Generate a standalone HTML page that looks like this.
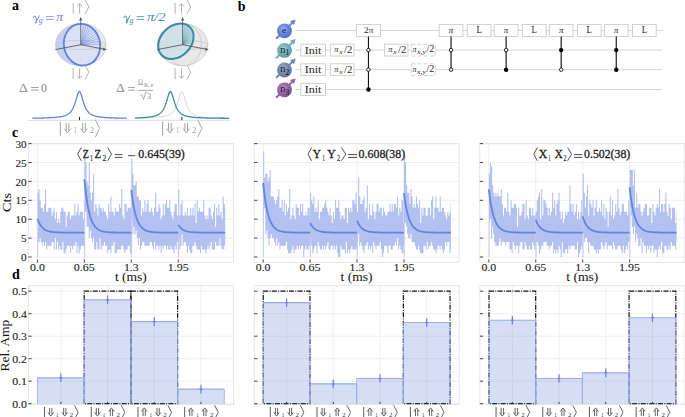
<!DOCTYPE html><html><head><meta charset="utf-8"><style>html,body{margin:0;padding:0;background:#fff;overflow:hidden}svg{display:block}</style></head><body><svg width="685" height="417" viewBox="0 0 685 417" font-family="'Liberation Serif', serif">
<rect width="685" height="417" fill="#fff"/>
<text x="12" y="9.7" font-size="14" fill="#000" text-anchor="start" font-weight="bold">a</text>
<text x="237.8" y="11.2" font-size="14" fill="#000" text-anchor="start" font-weight="bold">b</text>
<text x="12" y="137.1" font-size="14" fill="#000" text-anchor="start" font-weight="bold">c</text>
<text x="12" y="278.9" font-size="14" fill="#000" text-anchor="start" font-weight="bold">d</text>
<defs><clipPath id="clL"><ellipse cx="80.8" cy="44.7" rx="25.2" ry="21.1"/></clipPath></defs>
<ellipse cx="80.8" cy="44.7" rx="25.2" ry="21.1" fill="#e8e8e8"/>
<g clip-path="url(#clL)"><rect x="55.6" y="23.6" width="25.9" height="42.2" fill="#c7d0f1"/></g>
<ellipse cx="82" cy="44.7" rx="18.1" ry="20.9" transform="rotate(-11 82 44.7)" fill="#dce2f5"/>
<ellipse cx="80.8" cy="45" rx="25.2" ry="4.6" fill="none" stroke="#bdbdbd" stroke-width="0.6"/>
<ellipse cx="80.8" cy="44.7" rx="25.2" ry="21.1" fill="none" stroke="#c6c6c6" stroke-width="0.7"/>
<line x1="80.8" y1="44.7" x2="83.59" y2="24.1" stroke="#7690e6" stroke-width="0.6"/>
<line x1="80.8" y1="44.7" x2="86.1" y2="24.71" stroke="#7690e6" stroke-width="0.6"/>
<line x1="80.8" y1="44.7" x2="88.53" y2="25.71" stroke="#7690e6" stroke-width="0.6"/>
<line x1="80.8" y1="44.7" x2="90.84" y2="27.08" stroke="#7690e6" stroke-width="0.6"/>
<line x1="80.8" y1="44.7" x2="92.97" y2="28.8" stroke="#7690e6" stroke-width="0.6"/>
<line x1="80.8" y1="44.7" x2="94.89" y2="30.82" stroke="#7690e6" stroke-width="0.6"/>
<line x1="80.8" y1="44.7" x2="96.56" y2="33.11" stroke="#7690e6" stroke-width="0.6"/>
<line x1="80.8" y1="44.7" x2="97.94" y2="35.64" stroke="#7690e6" stroke-width="0.6"/>
<line x1="80.8" y1="44.7" x2="99.01" y2="38.33" stroke="#7690e6" stroke-width="0.6"/>
<line x1="80.8" y1="44.7" x2="99.75" y2="41.16" stroke="#7690e6" stroke-width="0.6"/>
<line x1="80.8" y1="44.7" x2="100.14" y2="44.05" stroke="#7690e6" stroke-width="0.6"/>
<ellipse cx="82" cy="44.7" rx="18.1" ry="20.9" transform="rotate(-11 82 44.7)" fill="none" stroke="#6382e2" stroke-width="1.85"/>
<line x1="80.7" y1="44.7" x2="80.7" y2="19.5" stroke="#5a5a5a" stroke-width="0.8"/>
<path d="M80.7 16.8L79.2 20.6L82.2 20.6Z" stroke="none" stroke-width="0" fill="#5a5a5a"/>
<line x1="55.3" y1="49.6" x2="80.8" y2="44.7" stroke="#5a5a5a" stroke-width="0.9"/>
<line x1="80.8" y1="44.7" x2="105.3" y2="49.4" stroke="#5a5a5a" stroke-width="0.9"/>
<path d="M107 49.7L103.4 47.7L103 50.5Z" stroke="none" stroke-width="0" fill="#5a5a5a"/>
<defs><clipPath id="clR"><ellipse cx="182.7" cy="44.7" rx="25.2" ry="21.1"/></clipPath></defs>
<ellipse cx="182.7" cy="44.7" rx="25.2" ry="21.1" fill="#e8e8e8"/>
<ellipse cx="183.6" cy="44.7" rx="17.8" ry="21.1" fill="none" stroke="#c4c4c4" stroke-width="0.7"/>
<ellipse cx="182.7" cy="45" rx="25.2" ry="4.6" fill="none" stroke="#bdbdbd" stroke-width="0.6"/>
<ellipse cx="182.7" cy="44.7" rx="25.2" ry="21.1" fill="none" stroke="#c6c6c6" stroke-width="0.7"/>
<ellipse cx="175.9" cy="41.2" rx="19.9" ry="15.2" transform="rotate(-45 175.9 41.2)" fill="#c9dfe7" fill-opacity="0.75"/>
<line x1="182.7" y1="44.7" x2="182.77" y2="23.65" stroke="#4f98ad" stroke-width="0.45"/>
<line x1="182.7" y1="44.7" x2="184.98" y2="24.15" stroke="#4f98ad" stroke-width="0.45"/>
<line x1="182.7" y1="44.7" x2="187.01" y2="24.97" stroke="#4f98ad" stroke-width="0.45"/>
<line x1="182.7" y1="44.7" x2="188.82" y2="26.12" stroke="#4f98ad" stroke-width="0.45"/>
<line x1="182.7" y1="44.7" x2="190.29" y2="27.46" stroke="#4f98ad" stroke-width="0.45"/>
<line x1="182.7" y1="44.7" x2="191.59" y2="29.16" stroke="#4f98ad" stroke-width="0.45"/>
<line x1="182.7" y1="44.7" x2="192.58" y2="31.08" stroke="#4f98ad" stroke-width="0.45"/>
<line x1="182.7" y1="44.7" x2="193.25" y2="33.21" stroke="#4f98ad" stroke-width="0.45"/>
<line x1="182.7" y1="44.7" x2="193.56" y2="35.34" stroke="#4f98ad" stroke-width="0.45"/>
<line x1="182.7" y1="44.7" x2="193.56" y2="37.72" stroke="#4f98ad" stroke-width="0.45"/>
<line x1="182.7" y1="44.7" x2="193.22" y2="40.18" stroke="#4f98ad" stroke-width="0.45"/>
<line x1="182.7" y1="44.7" x2="192.54" y2="42.65" stroke="#4f98ad" stroke-width="0.45"/>
<ellipse cx="175.9" cy="41.2" rx="19.9" ry="15.2" transform="rotate(-45 175.9 41.2)" fill="none" stroke="#3a8ba2" stroke-width="2"/>
<line x1="182.6" y1="44.7" x2="182.6" y2="19.5" stroke="#5a5a5a" stroke-width="0.8"/>
<path d="M182.6 16.8L181.1 20.6L184.1 20.6Z" stroke="none" stroke-width="0" fill="#5a5a5a"/>
<line x1="157.2" y1="49.6" x2="182.7" y2="44.7" stroke="#5a5a5a" stroke-width="0.9"/>
<line x1="182.7" y1="44.7" x2="207.2" y2="49.4" stroke="#5a5a5a" stroke-width="0.9"/>
<path d="M208.9 49.7L205.3 47.7L204.9 50.5Z" stroke="none" stroke-width="0" fill="#5a5a5a"/>
<line x1="73.2" y1="2.8" x2="73.2" y2="13.8" stroke="#999" stroke-width="0.75"/>
<line x1="79.6" y1="3.8" x2="79.6" y2="13.5" stroke="#999" stroke-width="0.75"/>
<path d="M76.9 6.4L79.6 3.8L82.3 6.4" stroke="#999" stroke-width="0.75" fill="none"/>
<path d="M85.2 0L88.8 6.9L85.2 13.8" stroke="#999" stroke-width="0.75" fill="none"/>
<line x1="175.1" y1="2.8" x2="175.1" y2="13.8" stroke="#999" stroke-width="0.75"/>
<line x1="181.5" y1="3.8" x2="181.5" y2="13.5" stroke="#999" stroke-width="0.75"/>
<path d="M178.8 6.4L181.5 3.8L184.2 6.4" stroke="#999" stroke-width="0.75" fill="none"/>
<path d="M187.1 0L190.7 6.9L187.1 13.8" stroke="#999" stroke-width="0.75" fill="none"/>
<line x1="73.2" y1="68.2" x2="73.2" y2="79.2" stroke="#999" stroke-width="0.75"/>
<line x1="79.6" y1="68.5" x2="79.6" y2="78.2" stroke="#999" stroke-width="0.75"/>
<path d="M76.9 75.6L79.6 78.2L82.3 75.6" stroke="#999" stroke-width="0.75" fill="none"/>
<path d="M85.2 65.4L88.8 72.3L85.2 79.2" stroke="#999" stroke-width="0.75" fill="none"/>
<line x1="175.1" y1="68.2" x2="175.1" y2="79.2" stroke="#999" stroke-width="0.75"/>
<line x1="181.5" y1="68.5" x2="181.5" y2="78.2" stroke="#999" stroke-width="0.75"/>
<path d="M178.8 75.6L181.5 78.2L184.2 75.6" stroke="#999" stroke-width="0.75" fill="none"/>
<path d="M187.1 65.4L190.7 72.3L187.1 79.2" stroke="#999" stroke-width="0.75" fill="none"/>
<path d="M33.2 17.7Q33.8 15.6 35.2 16.0Q36.3 16.6 36.4 20.4M39.4 15.8L36 21.8Q35.3 23.6 36.1 23.3Q36.8 22.8 36.4 20.4" stroke="#6985e6" stroke-width="0.95" fill="none" stroke-linecap="round"/>
<text x="38.8" y="23" font-size="7.2" fill="#6985e6" text-anchor="start" font-style="italic" textLength="4" lengthAdjust="spacingAndGlyphs">g</text>
<line x1="46.1" y1="16.6" x2="53.7" y2="16.6" stroke="#6985e6" stroke-width="0.8"/>
<line x1="46.1" y1="19.4" x2="53.7" y2="19.4" stroke="#6985e6" stroke-width="0.8"/>
<text x="56.3" y="20.9" font-size="11.5" fill="#6985e6" text-anchor="start" font-style="italic" textLength="6.8" lengthAdjust="spacingAndGlyphs">π</text>
<path d="M123.8 17.7Q124.4 15.6 125.8 16.0Q126.9 16.6 127 20.4M130 15.8L126.6 21.8Q125.9 23.6 126.7 23.3Q127.4 22.8 127 20.4" stroke="#3d8ea6" stroke-width="0.95" fill="none" stroke-linecap="round"/>
<text x="129.4" y="23" font-size="7.2" fill="#3d8ea6" text-anchor="start" font-style="italic" textLength="4" lengthAdjust="spacingAndGlyphs">g</text>
<line x1="136.7" y1="16.6" x2="144.3" y2="16.6" stroke="#3d8ea6" stroke-width="0.8"/>
<line x1="136.7" y1="19.4" x2="144.3" y2="19.4" stroke="#3d8ea6" stroke-width="0.8"/>
<text x="146.9" y="20.9" font-size="11.5" fill="#3d8ea6" text-anchor="start" font-style="italic" textLength="18.6" lengthAdjust="spacingAndGlyphs">π/2</text>
<line x1="27.9" y1="120.3" x2="230" y2="120.3" stroke="#dcdcdc" stroke-width="1"/>
<path d="M32.3 118.2 32.77 118.19 33.25 118.19 33.72 118.18 34.2 118.17 34.67 118.17 35.15 118.16 35.62 118.15 36.1 118.14 36.57 118.14 37.05 118.13 37.52 118.12 38 118.11 38.47 118.1 38.95 118.09 39.42 118.08 39.9 118.07 40.37 118.06 40.85 118.05 41.32 118.04 41.8 118.03 42.27 118.02 42.75 118.01 43.22 117.99 43.7 117.98 44.17 117.97 44.65 117.95 45.12 117.94 45.6 117.92 46.07 117.91 46.55 117.89 47.02 117.87 47.5 117.85 47.97 117.83 48.45 117.81 48.92 117.79 49.4 117.77 49.87 117.75 50.35 117.72 50.82 117.7 51.29 117.67 51.77 117.64 52.24 117.61 52.72 117.58 53.19 117.55 53.67 117.52 54.14 117.48 54.62 117.44 55.09 117.4 55.57 117.36 56.04 117.32 56.52 117.27 56.99 117.22 57.47 117.17 57.94 117.11 58.42 117.05 58.89 116.98 59.37 116.92 59.84 116.84 60.32 116.77 60.79 116.68 61.27 116.59 61.74 116.5 62.22 116.39 62.69 116.28 63.17 116.16 63.64 116.03 64.12 115.89 64.59 115.74 65.07 115.57 65.54 115.39 66.02 115.19 66.49 114.98 66.97 114.74 67.44 114.48 67.92 114.2 68.39 113.88 68.87 113.54 69.34 113.15 69.82 112.72 70.29 112.25 70.76 111.72 71.24 111.13 71.71 110.47 72.19 109.73 72.66 108.91 73.14 107.99 73.61 106.96 74.09 105.81 74.56 104.55 75.04 103.17 75.51 101.67 75.99 100.08 76.46 98.43 76.94 96.77 77.41 95.18 77.89 93.76 78.36 92.61 78.84 91.84 79.31 91.51 79.79 91.66 80.26 92.28 80.74 93.3 81.21 94.63 81.69 96.17 82.16 97.81 82.64 99.47 83.11 101.09 83.59 102.63 84.06 104.05 84.54 105.36 85.01 106.55 85.49 107.62 85.96 108.58 86.44 109.44 86.91 110.21 87.39 110.9 87.86 111.51 88.34 112.06 88.81 112.56 89.28 113 89.76 113.4 90.23 113.76 90.71 114.09 91.18 114.38 91.66 114.65 92.13 114.89 92.61 115.12 93.08 115.32 93.56 115.51 94.03 115.68 94.51 115.83 94.98 115.98 95.46 116.11 95.93 116.24 96.41 116.35 96.88 116.46 97.36 116.56 97.83 116.65 98.31 116.74 98.78 116.82 99.26 116.89 99.73 116.96 100.21 117.03 100.68 117.09 101.16 117.15 101.63 117.2 102.11 117.25 102.58 117.3 103.06 117.35 103.53 117.39 104.01 117.43 104.48 117.47 104.96 117.5 105.43 117.54 105.91 117.57 106.38 117.6 106.86 117.63 107.33 117.66 107.81 117.69 108.28 117.71 108.75 117.74 109.23 117.76 109.7 117.78 110.18 117.81 110.65 117.83 111.13 117.85 111.6 117.86 112.08 117.88 112.55 117.9 113.03 117.92 113.5 117.93 113.98 117.95 114.45 117.96 114.93 117.98 115.4 117.99 115.88 118 116.35 118.01 116.83 118.03 117.3 118.04 117.78 118.05 118.25 118.06 118.73 118.07 119.2 118.08 119.68 118.09 120.15 118.1 120.63 118.11 121.1 118.12 121.58 118.13 122.05 118.13 122.53 118.14 123 118.15 123.48 118.16 123.95 118.16 124.43 118.17 124.9 118.18 125.38 118.18 125.85 118.19 126.33 118.2 126.8 118.2" stroke="#6382e2" stroke-width="1.3" fill="none"/>
<path d="M134.9 118.2 135.37 118.19 135.85 118.18 136.32 118.18 136.79 118.17 137.27 118.16 137.74 118.16 138.21 118.15 138.69 118.14 139.16 118.13 139.63 118.13 140.11 118.12 140.58 118.11 141.05 118.1 141.53 118.09 142 118.08 142.47 118.07 142.95 118.06 143.42 118.05 143.89 118.04 144.37 118.03 144.84 118.01 145.31 118 145.79 117.99 146.26 117.98 146.73 117.96 147.21 117.95 147.68 117.93 148.15 117.92 148.63 117.9 149.1 117.88 149.57 117.87 150.05 117.85 150.52 117.83 150.99 117.81 151.47 117.79 151.94 117.76 152.41 117.74 152.89 117.72 153.36 117.69 153.83 117.66 154.31 117.64 154.78 117.61 155.25 117.57 155.73 117.54 156.2 117.51 156.67 117.47 157.15 117.43 157.62 117.39 158.09 117.35 158.57 117.3 159.04 117.26 159.52 117.21 159.99 117.15 160.46 117.09 160.94 117.03 161.41 116.97 161.88 116.9 162.36 116.83 162.83 116.75 163.3 116.66 163.78 116.57 164.25 116.47 164.72 116.37 165.2 116.26 165.67 116.13 166.14 116 166.62 115.86 167.09 115.7 167.56 115.54 168.04 115.35 168.51 115.15 168.98 114.93 169.46 114.69 169.93 114.43 170.4 114.14 170.88 113.82 171.35 113.47 171.82 113.08 172.3 112.65 172.77 112.17 173.24 111.63 173.72 111.03 174.19 110.36 174.66 109.61 175.14 108.77 175.61 107.84 176.08 106.8 176.56 105.64 177.03 104.37 177.5 102.97 177.98 101.46 178.45 99.87 178.92 98.22 179.4 96.57 179.87 95 180.34 93.61 180.82 92.51 181.29 91.78 181.76 91.5 182.24 91.7 182.71 92.37 183.18 93.42 183.66 94.77 184.13 96.32 184.6 97.96 185.08 99.61 185.55 101.22 186.02 102.74 186.5 104.16 186.97 105.45 187.44 106.63 187.92 107.69 188.39 108.64 188.86 109.49 189.34 110.25 189.81 110.93 190.28 111.54 190.76 112.09 191.23 112.58 191.7 113.02 192.18 113.41 192.65 113.77 193.12 114.1 193.6 114.39 194.07 114.66 194.54 114.9 195.02 115.12 195.49 115.32 195.96 115.51 196.44 115.68 196.91 115.84 197.38 115.98 197.86 116.11 198.33 116.24 198.8 116.35 199.28 116.46 199.75 116.56 200.22 116.65 200.7 116.73 201.17 116.81 201.64 116.89 202.12 116.96 202.59 117.02 203.06 117.09 203.54 117.14 204.01 117.2 204.48 117.25 204.96 117.3 205.43 117.34 205.91 117.39 206.38 117.43 206.85 117.47 207.33 117.5 207.8 117.54 208.27 117.57 208.75 117.6 209.22 117.63 209.69 117.66 210.17 117.69 210.64 117.71 211.11 117.74 211.59 117.76 212.06 117.78 212.53 117.8 213.01 117.82 213.48 117.84 213.95 117.86 214.43 117.88 214.9 117.9 215.37 117.91 215.85 117.93 216.32 117.95 216.79 117.96 217.27 117.97 217.74 117.99 218.21 118 218.69 118.01 219.16 118.02 219.63 118.04 220.11 118.05 220.58 118.06 221.05 118.07 221.53 118.08 222 118.09 222.47 118.1 222.95 118.11 223.42 118.12 223.89 118.12 224.37 118.13 224.84 118.14 225.31 118.15 225.79 118.16 226.26 118.16 226.73 118.17 227.21 118.18 227.68 118.18 228.15 118.19 228.63 118.2 229.1 118.2" stroke="#d0d0d0" stroke-width="0.9" fill="none"/>
<path d="M134.9 117.97 135.37 117.96 135.85 117.95 136.32 117.93 136.79 117.92 137.27 117.9 137.74 117.88 138.21 117.86 138.69 117.85 139.16 117.83 139.63 117.81 140.11 117.78 140.58 117.76 141.05 117.74 141.53 117.71 142 117.69 142.47 117.66 142.95 117.63 143.42 117.6 143.89 117.57 144.37 117.54 144.84 117.5 145.31 117.47 145.79 117.43 146.26 117.39 146.73 117.35 147.21 117.3 147.68 117.25 148.15 117.2 148.63 117.15 149.1 117.09 149.57 117.03 150.05 116.96 150.52 116.89 150.99 116.82 151.47 116.74 151.94 116.65 152.41 116.56 152.89 116.46 153.36 116.36 153.83 116.25 154.31 116.12 154.78 115.99 155.25 115.85 155.73 115.69 156.2 115.52 156.67 115.34 157.15 115.14 157.62 114.92 158.09 114.67 158.57 114.41 159.04 114.12 159.52 113.8 159.99 113.44 160.46 113.05 160.94 112.61 161.41 112.12 161.88 111.58 162.36 110.98 162.83 110.3 163.3 109.55 163.78 108.7 164.25 107.76 164.72 106.71 165.2 105.54 165.67 104.25 166.14 102.85 166.62 101.33 167.09 99.73 167.56 98.08 168.04 96.43 168.51 94.88 168.98 93.51 169.46 92.43 169.93 91.74 170.4 91.5 170.88 91.74 171.35 92.44 171.82 93.52 172.3 94.89 172.77 96.45 173.24 98.1 173.72 99.75 174.19 101.35 174.66 102.86 175.14 104.27 175.61 105.55 176.08 106.72 176.56 107.77 177.03 108.71 177.5 109.55 177.98 110.31 178.45 110.98 178.92 111.59 179.4 112.13 179.87 112.61 180.34 113.05 180.82 113.44 181.29 113.8 181.76 114.12 182.24 114.41 182.71 114.68 183.18 114.92 183.66 115.14 184.13 115.34 184.6 115.52 185.08 115.69 185.55 115.85 186.02 115.99 186.5 116.12 186.97 116.25 187.44 116.36 187.92 116.47 188.39 116.56 188.86 116.66 189.34 116.74 189.81 116.82 190.28 116.89 190.76 116.96 191.23 117.03 191.7 117.09 192.18 117.15 192.65 117.2 193.12 117.25 193.6 117.3 194.07 117.35 194.54 117.39 195.02 117.43 195.49 117.47 195.96 117.51 196.44 117.54 196.91 117.57 197.38 117.6 197.86 117.63 198.33 117.66 198.8 117.69 199.28 117.71 199.75 117.74 200.22 117.76 200.7 117.78 201.17 117.81 201.64 117.83 202.12 117.85 202.59 117.86 203.06 117.88 203.54 117.9 204.01 117.92 204.48 117.93 204.96 117.95 205.43 117.96 205.91 117.97 206.38 117.99 206.85 118 207.33 118.01 207.8 118.03 208.27 118.04 208.75 118.05 209.22 118.06 209.69 118.07 210.17 118.08 210.64 118.09 211.11 118.1 211.59 118.11 212.06 118.12 212.53 118.13 213.01 118.13 213.48 118.14 213.95 118.15 214.43 118.16 214.9 118.16 215.37 118.17 215.85 118.18 216.32 118.18 216.79 118.19 217.27 118.2 217.74 118.2 218.21 118.21 218.69 118.21 219.16 118.22 219.63 118.22 220.11 118.23 220.58 118.23 221.05 118.24 221.53 118.24 222 118.25 222.47 118.25 222.95 118.26 223.42 118.26 223.89 118.27 224.37 118.27 224.84 118.27 225.31 118.28 225.79 118.28 226.26 118.29 226.73 118.29 227.21 118.29 227.68 118.3 228.15 118.3 228.63 118.3 229.1 118.31" stroke="#3a8ba2" stroke-width="1.3" fill="none"/>
<line x1="79.5" y1="116.9" x2="79.5" y2="120.2" stroke="#222" stroke-width="1"/>
<line x1="181.9" y1="116.9" x2="181.9" y2="120.2" stroke="#222" stroke-width="1"/>
<line x1="60.3" y1="121.78" x2="60.3" y2="135.81" stroke="#999" stroke-width="0.94"/>
<path d="M66.24 123V130.75M68.86 123V130.75M64.28 128.5L67.55 133L70.83 128.5" stroke="#999" stroke-width="0.88" fill="none"/>
<text x="73.75" y="133.49" font-size="8.54" fill="#999" text-anchor="start" textLength="3.04" lengthAdjust="spacingAndGlyphs">1</text>
<path d="M82.62 123V130.75M85.24 123V130.75M80.66 128.5L83.93 133L87.21 128.5" stroke="#999" stroke-width="0.88" fill="none"/>
<text x="89.9" y="133.49" font-size="8.54" fill="#999" text-anchor="start" textLength="3.98" lengthAdjust="spacingAndGlyphs">2</text>
<path d="M95.4 119.83L99.61 128.37L95.4 136.91" stroke="#999" stroke-width="0.88" fill="none"/>
<line x1="162.6" y1="121.78" x2="162.6" y2="135.81" stroke="#999" stroke-width="0.94"/>
<path d="M168.54 123V130.75M171.16 123V130.75M166.58 128.5L169.85 133L173.13 128.5" stroke="#999" stroke-width="0.88" fill="none"/>
<text x="176.06" y="133.49" font-size="8.54" fill="#999" text-anchor="start" textLength="3.04" lengthAdjust="spacingAndGlyphs">1</text>
<path d="M184.92 123V130.75M187.54 123V130.75M182.96 128.5L186.23 133L189.51 128.5" stroke="#999" stroke-width="0.88" fill="none"/>
<text x="192.2" y="133.49" font-size="8.54" fill="#999" text-anchor="start" textLength="3.98" lengthAdjust="spacingAndGlyphs">2</text>
<path d="M197.7 119.83L201.91 128.37L197.7 136.91" stroke="#999" stroke-width="0.88" fill="none"/>
<text x="19.1" y="91.8" font-size="11.5" fill="#8a8a8a" text-anchor="start" textLength="8.7" lengthAdjust="spacingAndGlyphs">Δ</text>
<line x1="31.1" y1="87.5" x2="38.8" y2="87.5" stroke="#8a8a8a" stroke-width="0.8"/>
<line x1="31.1" y1="90.1" x2="38.8" y2="90.1" stroke="#8a8a8a" stroke-width="0.8"/>
<text x="41" y="91.8" font-size="11.5" fill="#8a8a8a" text-anchor="start" textLength="6" lengthAdjust="spacingAndGlyphs">0</text>
<text x="116.2" y="91.8" font-size="11.5" fill="#8a8a8a" text-anchor="start" textLength="8.4" lengthAdjust="spacingAndGlyphs">Δ</text>
<line x1="128.1" y1="87.6" x2="134.8" y2="87.6" stroke="#8a8a8a" stroke-width="0.8"/>
<line x1="128.1" y1="90.2" x2="134.8" y2="90.2" stroke="#8a8a8a" stroke-width="0.8"/>
<text x="137.9" y="85.3" font-size="8.2" fill="#8a8a8a" text-anchor="start" textLength="5" lengthAdjust="spacingAndGlyphs">Ω</text>
<text x="143.9" y="87.2" font-size="5.4" fill="#8a8a8a" text-anchor="start" textLength="9.6" lengthAdjust="spacingAndGlyphs">R, e</text>
<line x1="137.8" y1="90.4" x2="153.2" y2="90.4" stroke="#8a8a8a" stroke-width="0.7"/>
<path d="M140.5 95.6L141.8 94.8L143.6 99.4L145.8 92.2H147.2" stroke="#8a8a8a" stroke-width="0.7" fill="none"/>
<text x="147" y="99.4" font-size="8" fill="#8a8a8a" text-anchor="start" textLength="4.2" lengthAdjust="spacingAndGlyphs">3</text>
<line x1="295.5" y1="30.5" x2="662.2" y2="30.5" stroke="#d4d4d4" stroke-width="1"/>
<line x1="295.5" y1="50.1" x2="662.2" y2="50.1" stroke="#d4d4d4" stroke-width="1"/>
<line x1="295.5" y1="69.7" x2="662.2" y2="69.7" stroke="#d4d4d4" stroke-width="1"/>
<line x1="295.5" y1="89.5" x2="662.2" y2="89.5" stroke="#d4d4d4" stroke-width="1"/>
<defs>
<radialGradient id="ge" cx="0.42" cy="0.38" r="0.65"><stop offset="0" stop-color="#9cb0ee"/><stop offset="0.55" stop-color="#6482dd"/><stop offset="1" stop-color="#5470d0"/></radialGradient>
<radialGradient id="gn1" cx="0.42" cy="0.38" r="0.65"><stop offset="0" stop-color="#a0d0d5"/><stop offset="0.55" stop-color="#6eaeb6"/><stop offset="1" stop-color="#5a9aa3"/></radialGradient>
<radialGradient id="gn2" cx="0.42" cy="0.38" r="0.65"><stop offset="0" stop-color="#a2b0cc"/><stop offset="0.55" stop-color="#7386ac"/><stop offset="1" stop-color="#62769e"/></radialGradient>
<radialGradient id="gn3" cx="0.42" cy="0.38" r="0.65"><stop offset="0" stop-color="#b995c8"/><stop offset="0.55" stop-color="#9264a7"/><stop offset="1" stop-color="#7f5196"/></radialGradient>
</defs>
<line x1="276.1" y1="38.7" x2="293.5" y2="21.6" stroke="#6482dd" stroke-width="2"/>
<path d="M295.7 19.4L293.95 25.04L290.03 21.05Z" stroke="none" stroke-width="0" fill="#6482dd"/>
<circle cx="284.5" cy="30.8" r="7.4" fill="url(#ge)"/>
<line x1="276.1" y1="58.3" x2="293.5" y2="41.2" stroke="#6eaeb6" stroke-width="2"/>
<path d="M295.7 39L293.95 44.64L290.03 40.65Z" stroke="none" stroke-width="0" fill="#6eaeb6"/>
<circle cx="284.5" cy="50.4" r="7.4" fill="url(#gn1)"/>
<line x1="276.1" y1="77.9" x2="293.5" y2="60.8" stroke="#7386ac" stroke-width="2"/>
<path d="M295.7 58.6L293.95 64.24L290.03 60.25Z" stroke="none" stroke-width="0" fill="#7386ac"/>
<circle cx="284.5" cy="70" r="7.4" fill="url(#gn2)"/>
<line x1="276.1" y1="97.7" x2="293.5" y2="80.6" stroke="#9264a7" stroke-width="2"/>
<path d="M295.7 78.4L293.95 84.04L290.03 80.05Z" stroke="none" stroke-width="0" fill="#9264a7"/>
<circle cx="284.5" cy="89.8" r="7.4" fill="url(#gn3)"/>
<text x="284" y="32.6" font-size="9.2" fill="#111" text-anchor="middle">e</text>
<text x="282.9" y="52.8" font-size="9.6" fill="#111" text-anchor="middle" textLength="5.2" lengthAdjust="spacingAndGlyphs">n</text>
<text x="287.3" y="55.3" font-size="7.4" fill="#111" text-anchor="middle">1</text>
<text x="282.9" y="72.4" font-size="9.6" fill="#111" text-anchor="middle" textLength="5.2" lengthAdjust="spacingAndGlyphs">n</text>
<text x="287.3" y="74.9" font-size="7.4" fill="#111" text-anchor="middle">2</text>
<text x="282.9" y="92.2" font-size="9.6" fill="#111" text-anchor="middle" textLength="5.2" lengthAdjust="spacingAndGlyphs">n</text>
<text x="287.3" y="94.7" font-size="7.4" fill="#111" text-anchor="middle">3</text>
<rect x="300.8" y="44.2" width="24.7" height="11.8" fill="#fff" stroke="#cccccc" stroke-width="0.9"/>
<text x="313.1" y="53.7" font-size="10.2" fill="#222" text-anchor="middle" textLength="16.8" lengthAdjust="spacingAndGlyphs">Init</text>
<rect x="300.8" y="63.8" width="24.7" height="11.8" fill="#fff" stroke="#cccccc" stroke-width="0.9"/>
<text x="313.1" y="73.3" font-size="10.2" fill="#222" text-anchor="middle" textLength="16.8" lengthAdjust="spacingAndGlyphs">Init</text>
<rect x="300.8" y="83.6" width="24.7" height="11.8" fill="#fff" stroke="#cccccc" stroke-width="0.9"/>
<text x="313.1" y="93.1" font-size="10.2" fill="#222" text-anchor="middle" textLength="16.8" lengthAdjust="spacingAndGlyphs">Init</text>
<rect x="330.4" y="44.2" width="23.6" height="11.8" fill="#fff" stroke="#cccccc" stroke-width="0.9"/>
<rect x="330.4" y="63.8" width="23.6" height="11.8" fill="#fff" stroke="#cccccc" stroke-width="0.9"/>
<rect x="384.4" y="44.2" width="23.6" height="11.8" fill="#fff" stroke="#cccccc" stroke-width="0.9"/>
<rect x="411.2" y="44.2" width="24" height="11.8" fill="#fff" stroke="#cccccc" stroke-width="0.9" stroke-dasharray="4 2.2"/>
<rect x="411.2" y="63.8" width="24" height="11.8" fill="#fff" stroke="#cccccc" stroke-width="0.9" stroke-dasharray="4 2.2"/>
<text x="334.3" y="52.3" font-size="8.6" fill="#2a2a2a" text-anchor="start" font-style="italic" textLength="4.2" lengthAdjust="spacingAndGlyphs">π</text>
<text x="339.2" y="54" font-size="6.6" fill="#2a2a2a" text-anchor="start" font-style="italic" textLength="3.4" lengthAdjust="spacingAndGlyphs">x</text>
<text x="344.1" y="53.4" font-size="9.6" fill="#2a2a2a" text-anchor="start" textLength="8.4" lengthAdjust="spacingAndGlyphs">/2</text>
<text x="334.3" y="71.9" font-size="8.6" fill="#2a2a2a" text-anchor="start" font-style="italic" textLength="4.2" lengthAdjust="spacingAndGlyphs">π</text>
<text x="339.2" y="73.6" font-size="6.6" fill="#2a2a2a" text-anchor="start" font-style="italic" textLength="3.4" lengthAdjust="spacingAndGlyphs">x</text>
<text x="344.1" y="73" font-size="9.6" fill="#2a2a2a" text-anchor="start" textLength="8.4" lengthAdjust="spacingAndGlyphs">/2</text>
<text x="388.3" y="52.3" font-size="8.6" fill="#2a2a2a" text-anchor="start" font-style="italic" textLength="4.2" lengthAdjust="spacingAndGlyphs">π</text>
<text x="393.2" y="54" font-size="6.6" fill="#2a2a2a" text-anchor="start" font-style="italic" textLength="3.4" lengthAdjust="spacingAndGlyphs">x</text>
<text x="398.1" y="53.4" font-size="9.6" fill="#2a2a2a" text-anchor="start" textLength="8.4" lengthAdjust="spacingAndGlyphs">/2</text>
<text x="412.6" y="52.3" font-size="8.6" fill="#2a2a2a" text-anchor="start" font-style="italic" textLength="4" lengthAdjust="spacingAndGlyphs">π</text>
<text x="417.1" y="54" font-size="6.6" fill="#2a2a2a" text-anchor="start" font-style="italic" textLength="9" lengthAdjust="spacingAndGlyphs">x,y</text>
<text x="426.5" y="52.4" font-size="9.6" fill="#2a2a2a" text-anchor="start" textLength="7.8" lengthAdjust="spacingAndGlyphs">/2</text>
<text x="412.6" y="71.9" font-size="8.6" fill="#2a2a2a" text-anchor="start" font-style="italic" textLength="4" lengthAdjust="spacingAndGlyphs">π</text>
<text x="417.1" y="73.6" font-size="6.6" fill="#2a2a2a" text-anchor="start" font-style="italic" textLength="9" lengthAdjust="spacingAndGlyphs">x,y</text>
<text x="426.5" y="72" font-size="9.6" fill="#2a2a2a" text-anchor="start" textLength="7.8" lengthAdjust="spacingAndGlyphs">/2</text>
<rect x="356.4" y="24.4" width="24.1" height="12.2" fill="#fff" stroke="#cccccc" stroke-width="0.9"/>
<text x="368.7" y="33.4" font-size="8.6" fill="#2a2a2a" text-anchor="middle" textLength="9.2" lengthAdjust="spacingAndGlyphs">2π</text>
<rect x="439.2" y="24.4" width="23.7" height="12.2" fill="#fff" stroke="#cccccc" stroke-width="0.9"/>
<text x="451.05" y="33.1" font-size="8" fill="#222" text-anchor="middle" font-style="italic" textLength="4.5" lengthAdjust="spacingAndGlyphs">π</text>
<rect x="467.3" y="24.4" width="23.7" height="12.2" fill="#fff" stroke="#cccccc" stroke-width="0.9"/>
<text x="479.15" y="33.2" font-size="9.4" fill="#1a1a1a" text-anchor="middle" textLength="5.4" lengthAdjust="spacingAndGlyphs">L</text>
<rect x="494.27" y="24.4" width="23.7" height="12.2" fill="#fff" stroke="#cccccc" stroke-width="0.9"/>
<text x="506.12" y="33.1" font-size="8" fill="#222" text-anchor="middle" font-style="italic" textLength="4.5" lengthAdjust="spacingAndGlyphs">π</text>
<rect x="522.37" y="24.4" width="23.7" height="12.2" fill="#fff" stroke="#cccccc" stroke-width="0.9"/>
<text x="534.22" y="33.2" font-size="9.4" fill="#1a1a1a" text-anchor="middle" textLength="5.4" lengthAdjust="spacingAndGlyphs">L</text>
<rect x="549.34" y="24.4" width="23.7" height="12.2" fill="#fff" stroke="#cccccc" stroke-width="0.9"/>
<text x="561.19" y="33.1" font-size="8" fill="#222" text-anchor="middle" font-style="italic" textLength="4.5" lengthAdjust="spacingAndGlyphs">π</text>
<rect x="577.44" y="24.4" width="23.7" height="12.2" fill="#fff" stroke="#cccccc" stroke-width="0.9"/>
<text x="589.29" y="33.2" font-size="9.4" fill="#1a1a1a" text-anchor="middle" textLength="5.4" lengthAdjust="spacingAndGlyphs">L</text>
<rect x="604.41" y="24.4" width="23.7" height="12.2" fill="#fff" stroke="#cccccc" stroke-width="0.9"/>
<text x="616.26" y="33.1" font-size="8" fill="#222" text-anchor="middle" font-style="italic" textLength="4.5" lengthAdjust="spacingAndGlyphs">π</text>
<rect x="632.51" y="24.4" width="23.7" height="12.2" fill="#fff" stroke="#cccccc" stroke-width="0.9"/>
<text x="644.36" y="33.2" font-size="9.4" fill="#1a1a1a" text-anchor="middle" textLength="5.4" lengthAdjust="spacingAndGlyphs">L</text>
<line x1="368.45" y1="36.6" x2="368.45" y2="89.5" stroke="#111" stroke-width="1.15"/>
<circle cx="368.45" cy="50.1" r="1.75" fill="#fff" stroke="#111" stroke-width="0.9"/>
<circle cx="368.45" cy="69.7" r="1.75" fill="#fff" stroke="#111" stroke-width="0.9"/>
<circle cx="368.45" cy="89.5" r="2.2" fill="#000"/>
<line x1="451.05" y1="36.6" x2="451.05" y2="69.7" stroke="#111" stroke-width="1.15"/>
<circle cx="451.05" cy="50.1" r="1.75" fill="#fff" stroke="#111" stroke-width="0.9"/>
<circle cx="451.05" cy="69.7" r="1.75" fill="#fff" stroke="#111" stroke-width="0.9"/>
<line x1="506.12" y1="36.6" x2="506.12" y2="69.7" stroke="#111" stroke-width="1.15"/>
<circle cx="506.12" cy="50.1" r="1.75" fill="#fff" stroke="#111" stroke-width="0.9"/>
<circle cx="506.12" cy="69.7" r="2.2" fill="#000"/>
<line x1="561.19" y1="36.6" x2="561.19" y2="69.7" stroke="#111" stroke-width="1.15"/>
<circle cx="561.19" cy="50.1" r="2.2" fill="#000"/>
<circle cx="561.19" cy="69.7" r="1.75" fill="#fff" stroke="#111" stroke-width="0.9"/>
<line x1="616.26" y1="36.6" x2="616.26" y2="69.7" stroke="#111" stroke-width="1.15"/>
<circle cx="616.26" cy="50.1" r="2.2" fill="#000"/>
<circle cx="616.26" cy="69.7" r="2.2" fill="#000"/>
<line x1="28.4" y1="257" x2="233.4" y2="257" stroke="#ebebeb" stroke-width="0.8"/>
<line x1="28.4" y1="238.1" x2="233.4" y2="238.1" stroke="#ebebeb" stroke-width="0.8"/>
<line x1="28.4" y1="219.2" x2="233.4" y2="219.2" stroke="#ebebeb" stroke-width="0.8"/>
<line x1="28.4" y1="200.3" x2="233.4" y2="200.3" stroke="#ebebeb" stroke-width="0.8"/>
<line x1="28.4" y1="181.4" x2="233.4" y2="181.4" stroke="#ebebeb" stroke-width="0.8"/>
<line x1="28.4" y1="162.5" x2="233.4" y2="162.5" stroke="#ebebeb" stroke-width="0.8"/>
<line x1="28.4" y1="143.6" x2="233.4" y2="143.6" stroke="#ebebeb" stroke-width="0.8"/>
<line x1="37.45" y1="143.8" x2="37.45" y2="262.3" stroke="#ebebeb" stroke-width="0.8"/>
<line x1="84.38" y1="143.8" x2="84.38" y2="262.3" stroke="#ebebeb" stroke-width="0.8"/>
<line x1="131.31" y1="143.8" x2="131.31" y2="262.3" stroke="#ebebeb" stroke-width="0.8"/>
<line x1="178.24" y1="143.8" x2="178.24" y2="262.3" stroke="#ebebeb" stroke-width="0.8"/>
<rect x="28.4" y="143.8" width="205" height="118.5" fill="none" stroke="#e0e0e0" stroke-width="0.8"/>
<path d="M37.45 192.74 38.53 192.74 38.53 188.96 39.62 188.96 39.62 200.3 40.7 200.3 40.7 207.86 41.78 207.86 41.78 207.86 42.87 207.86 42.87 211.64 43.95 211.64 43.95 204.08 45.03 204.08 45.03 188.96 46.11 188.96 46.11 211.64 47.2 211.64 47.2 211.64 48.28 211.64 48.28 207.86 49.36 207.86 49.36 207.86 50.45 207.86 50.45 207.86 51.53 207.86 51.53 215.42 52.61 215.42 52.61 211.64 53.7 211.64 53.7 207.86 54.78 207.86 54.78 219.2 55.86 219.2 55.86 211.64 56.94 211.64 56.94 222.98 58.03 222.98 58.03 219.2 59.11 219.2 59.11 222.98 60.19 222.98 60.19 211.64 61.28 211.64 61.28 207.86 62.36 207.86 62.36 207.86 63.44 207.86 63.44 211.64 64.53 211.64 64.53 211.64 65.61 211.64 65.61 226.76 66.69 226.76 66.69 215.42 67.77 215.42 67.77 211.64 68.86 211.64 68.86 211.64 69.94 211.64 69.94 219.2 71.02 219.2 71.02 215.42 72.11 215.42 72.11 215.42 73.19 215.42 73.19 215.42 74.27 215.42 74.27 204.08 75.36 204.08 75.36 215.42 76.44 215.42 76.44 211.64 77.52 211.64 77.52 204.08 78.6 204.08 78.6 215.42 79.69 215.42 79.69 211.64 80.77 211.64 80.77 211.64 81.85 211.64 81.85 211.64 82.94 211.64 82.94 219.2 84.02 219.2 84.02 211.64 84.38 211.64 84.38 249.44 84.02 249.44 84.02 245.66 82.94 245.66 82.94 245.66 81.85 245.66 81.85 245.66 80.77 245.66 80.77 249.44 79.69 249.44 79.69 253.22 78.6 253.22 78.6 245.66 77.52 245.66 77.52 253.22 76.44 253.22 76.44 241.88 75.36 241.88 75.36 245.66 74.27 245.66 74.27 245.66 73.19 245.66 73.19 249.44 72.11 249.44 72.11 245.66 71.02 245.66 71.02 253.22 69.94 253.22 69.94 245.66 68.86 245.66 68.86 245.66 67.77 245.66 67.77 245.66 66.69 245.66 66.69 249.44 65.61 249.44 65.61 253.22 64.53 253.22 64.53 253.22 63.44 253.22 63.44 241.88 62.36 241.88 62.36 249.44 61.28 249.44 61.28 249.44 60.19 249.44 60.19 245.66 59.11 245.66 59.11 249.44 58.03 249.44 58.03 241.88 56.94 241.88 56.94 249.44 55.86 249.44 55.86 238.1 54.78 238.1 54.78 249.44 53.7 249.44 53.7 241.88 52.61 241.88 52.61 241.88 51.53 241.88 51.53 245.66 50.45 245.66 50.45 245.66 49.36 245.66 49.36 245.66 48.28 245.66 48.28 245.66 47.2 245.66 47.2 249.44 46.11 249.44 46.11 241.88 45.03 241.88 45.03 245.66 43.95 245.66 43.95 241.88 42.87 241.88 42.87 245.66 41.78 245.66 41.78 241.88 40.7 241.88 40.7 238.1 39.62 238.1 39.62 241.88 38.53 241.88 38.53 241.88 37.45 241.88Z" stroke="none" stroke-width="0" fill="#b3c1f0"/>
<line x1="37.75" y1="257" x2="37.75" y2="241.88" stroke="#b3c1f0" stroke-width="0.8"/>
<path d="M84.38 151.16 85.46 151.16 85.46 162.5 86.55 162.5 86.55 181.4 87.63 181.4 87.63 185.18 88.71 185.18 88.71 162.5 89.8 162.5 89.8 192.74 90.88 192.74 90.88 200.3 91.96 200.3 91.96 192.74 93.04 192.74 93.04 173.84 94.13 173.84 94.13 211.64 95.21 211.64 95.21 204.08 96.29 204.08 96.29 207.86 97.38 207.86 97.38 215.42 98.46 215.42 98.46 204.08 99.54 204.08 99.54 207.86 100.62 207.86 100.62 207.86 101.71 207.86 101.71 211.64 102.79 211.64 102.79 207.86 103.87 207.86 103.87 211.64 104.96 211.64 104.96 211.64 106.04 211.64 106.04 215.42 107.12 215.42 107.12 219.2 108.21 219.2 108.21 204.08 109.29 204.08 109.29 211.64 110.37 211.64 110.37 196.52 111.45 196.52 111.45 211.64 112.54 211.64 112.54 211.64 113.62 211.64 113.62 215.42 114.7 215.42 114.7 207.86 115.79 207.86 115.79 211.64 116.87 211.64 116.87 211.64 117.95 211.64 117.95 211.64 119.04 211.64 119.04 204.08 120.12 204.08 120.12 207.86 121.2 207.86 121.2 188.96 122.29 188.96 122.29 215.42 123.37 215.42 123.37 219.2 124.45 219.2 124.45 204.08 125.53 204.08 125.53 204.08 126.62 204.08 126.62 211.64 127.7 211.64 127.7 207.86 128.78 207.86 128.78 207.86 129.87 207.86 129.87 207.86 130.95 207.86 130.95 204.08 131.31 204.08 131.31 249.44 130.95 249.44 130.95 253.22 129.87 253.22 129.87 245.66 128.78 245.66 128.78 245.66 127.7 245.66 127.7 249.44 126.62 249.44 126.62 249.44 125.53 249.44 125.53 253.22 124.45 253.22 124.45 249.44 123.37 249.44 123.37 245.66 122.29 245.66 122.29 245.66 121.2 245.66 121.2 249.44 120.12 249.44 120.12 249.44 119.04 249.44 119.04 249.44 117.95 249.44 117.95 249.44 116.87 249.44 116.87 253.22 115.79 253.22 115.79 253.22 114.7 253.22 114.7 241.88 113.62 241.88 113.62 245.66 112.54 245.66 112.54 245.66 111.45 245.66 111.45 253.22 110.37 253.22 110.37 249.44 109.29 249.44 109.29 249.44 108.21 249.44 108.21 253.22 107.12 253.22 107.12 245.66 106.04 245.66 106.04 245.66 104.96 245.66 104.96 241.88 103.87 241.88 103.87 245.66 102.79 245.66 102.79 245.66 101.71 245.66 101.71 249.44 100.62 249.44 100.62 238.1 99.54 238.1 99.54 249.44 98.46 249.44 98.46 249.44 97.38 249.44 97.38 241.88 96.29 241.88 96.29 249.44 95.21 249.44 95.21 249.44 94.13 249.44 94.13 238.1 93.04 238.1 93.04 241.88 91.96 241.88 91.96 238.1 90.88 238.1 90.88 230.54 89.8 230.54 89.8 238.1 88.71 238.1 88.71 226.76 87.63 226.76 87.63 226.76 86.55 226.76 86.55 211.64 85.46 211.64 85.46 211.64 84.38 211.64Z" stroke="none" stroke-width="0" fill="#b3c1f0"/>
<line x1="84.68" y1="257" x2="84.68" y2="211.64" stroke="#b3c1f0" stroke-width="0.8"/>
<path d="M131.31 158.72 132.39 158.72 132.39 173.84 133.48 173.84 133.48 185.18 134.56 185.18 134.56 185.18 135.64 185.18 135.64 181.4 136.73 181.4 136.73 196.52 137.81 196.52 137.81 196.52 138.89 196.52 138.89 200.3 139.97 200.3 139.97 200.3 141.06 200.3 141.06 215.42 142.14 215.42 142.14 207.86 143.22 207.86 143.22 211.64 144.31 211.64 144.31 200.3 145.39 200.3 145.39 211.64 146.47 211.64 146.47 204.08 147.56 204.08 147.56 200.3 148.64 200.3 148.64 211.64 149.72 211.64 149.72 211.64 150.8 211.64 150.8 207.86 151.89 207.86 151.89 211.64 152.97 211.64 152.97 215.42 154.05 215.42 154.05 207.86 155.14 207.86 155.14 192.74 156.22 192.74 156.22 211.64 157.3 211.64 157.3 211.64 158.38 211.64 158.38 204.08 159.47 204.08 159.47 207.86 160.55 207.86 160.55 219.2 161.63 219.2 161.63 215.42 162.72 215.42 162.72 204.08 163.8 204.08 163.8 215.42 164.88 215.42 164.88 204.08 165.97 204.08 165.97 200.3 167.05 200.3 167.05 207.86 168.13 207.86 168.13 207.86 169.22 207.86 169.22 200.3 170.3 200.3 170.3 211.64 171.38 211.64 171.38 215.42 172.46 215.42 172.46 219.2 173.55 219.2 173.55 211.64 174.63 211.64 174.63 204.08 175.71 204.08 175.71 204.08 176.8 204.08 176.8 215.42 177.88 215.42 177.88 215.42 178.24 215.42 178.24 249.44 177.88 249.44 177.88 241.88 176.8 241.88 176.8 249.44 175.71 249.44 175.71 245.66 174.63 245.66 174.63 253.22 173.55 253.22 173.55 249.44 172.46 249.44 172.46 249.44 171.38 249.44 171.38 245.66 170.3 245.66 170.3 249.44 169.22 249.44 169.22 249.44 168.13 249.44 168.13 245.66 167.05 245.66 167.05 249.44 165.97 249.44 165.97 245.66 164.88 245.66 164.88 245.66 163.8 245.66 163.8 249.44 162.72 249.44 162.72 245.66 161.63 245.66 161.63 253.22 160.55 253.22 160.55 245.66 159.47 245.66 159.47 249.44 158.38 249.44 158.38 245.66 157.3 245.66 157.3 245.66 156.22 245.66 156.22 249.44 155.14 249.44 155.14 241.88 154.05 241.88 154.05 249.44 152.97 249.44 152.97 245.66 151.89 245.66 151.89 241.88 150.8 241.88 150.8 241.88 149.72 241.88 149.72 245.66 148.64 245.66 148.64 245.66 147.56 245.66 147.56 245.66 146.47 245.66 146.47 245.66 145.39 245.66 145.39 245.66 144.31 245.66 144.31 241.88 143.22 241.88 143.22 241.88 142.14 241.88 142.14 245.66 141.06 245.66 141.06 249.44 139.97 249.44 139.97 238.1 138.89 238.1 138.89 245.66 137.81 245.66 137.81 238.1 136.73 238.1 136.73 230.54 135.64 230.54 135.64 234.32 134.56 234.32 134.56 226.76 133.48 226.76 133.48 234.32 132.39 234.32 132.39 219.2 131.31 219.2Z" stroke="none" stroke-width="0" fill="#b3c1f0"/>
<line x1="131.61" y1="257" x2="131.61" y2="219.2" stroke="#b3c1f0" stroke-width="0.8"/>
<path d="M178.24 188.96 179.32 188.96 179.32 215.42 180.41 215.42 180.41 204.08 181.49 204.08 181.49 200.3 182.57 200.3 182.57 215.42 183.66 215.42 183.66 215.42 184.74 215.42 184.74 211.64 185.82 211.64 185.82 215.42 186.9 215.42 186.9 207.86 187.99 207.86 187.99 215.42 189.07 215.42 189.07 215.42 190.15 215.42 190.15 207.86 191.24 207.86 191.24 215.42 192.32 215.42 192.32 207.86 193.4 207.86 193.4 215.42 194.49 215.42 194.49 204.08 195.57 204.08 195.57 222.98 196.65 222.98 196.65 200.3 197.73 200.3 197.73 211.64 198.82 211.64 198.82 207.86 199.9 207.86 199.9 211.64 200.98 211.64 200.98 211.64 202.07 211.64 202.07 211.64 203.15 211.64 203.15 200.3 204.23 200.3 204.23 215.42 205.31 215.42 205.31 219.2 206.4 219.2 206.4 215.42 207.48 215.42 207.48 219.2 208.56 219.2 208.56 207.86 209.65 207.86 209.65 207.86 210.73 207.86 210.73 215.42 211.81 215.42 211.81 219.2 212.9 219.2 212.9 211.64 213.98 211.64 213.98 204.08 215.06 204.08 215.06 226.76 216.15 226.76 216.15 207.86 217.23 207.86 217.23 215.42 218.31 215.42 218.31 204.08 219.39 204.08 219.39 215.42 220.48 215.42 220.48 211.64 221.56 211.64 221.56 219.2 222.64 219.2 222.64 196.52 223.73 196.52 223.73 204.08 224.81 204.08 224.81 207.86 225.17 207.86 225.17 249.44 224.81 249.44 224.81 245.66 223.73 245.66 223.73 249.44 222.64 249.44 222.64 249.44 221.56 249.44 221.56 245.66 220.48 245.66 220.48 238.1 219.39 238.1 219.39 245.66 218.31 245.66 218.31 245.66 217.23 245.66 217.23 245.66 216.15 245.66 216.15 241.88 215.06 241.88 215.06 249.44 213.98 249.44 213.98 249.44 212.9 249.44 212.9 249.44 211.81 249.44 211.81 241.88 210.73 241.88 210.73 245.66 209.65 245.66 209.65 249.44 208.56 249.44 208.56 245.66 207.48 245.66 207.48 249.44 206.4 249.44 206.4 253.22 205.31 253.22 205.31 249.44 204.23 249.44 204.23 249.44 203.15 249.44 203.15 249.44 202.07 249.44 202.07 245.66 200.98 245.66 200.98 253.22 199.9 253.22 199.9 249.44 198.82 249.44 198.82 249.44 197.73 249.44 197.73 249.44 196.65 249.44 196.65 245.66 195.57 245.66 195.57 241.88 194.49 241.88 194.49 245.66 193.4 245.66 193.4 245.66 192.32 245.66 192.32 253.22 191.24 253.22 191.24 253.22 190.15 253.22 190.15 249.44 189.07 249.44 189.07 245.66 187.99 245.66 187.99 253.22 186.9 253.22 186.9 245.66 185.82 245.66 185.82 241.88 184.74 241.88 184.74 241.88 183.66 241.88 183.66 245.66 182.57 245.66 182.57 234.32 181.49 234.32 181.49 245.66 180.41 245.66 180.41 249.44 179.32 249.44 179.32 238.1 178.24 238.1Z" stroke="none" stroke-width="0" fill="#b3c1f0"/>
<line x1="178.54" y1="257" x2="178.54" y2="238.1" stroke="#b3c1f0" stroke-width="0.8"/>
<path d="M37.45 218.82 38.25 220.89 39.04 222.64 39.84 224.13 40.63 225.4 41.43 226.48 42.22 227.4 43.02 228.18 43.81 228.84 44.61 229.41 45.4 229.89 46.2 230.3 47 230.64 47.79 230.94 48.59 231.19 49.38 231.4 50.18 231.59 50.97 231.74 51.77 231.87 52.56 231.98 53.36 232.08 54.15 232.16 54.95 232.23 55.74 232.29 56.54 232.34 57.34 232.38 58.13 232.41 58.93 232.45 59.72 232.47 60.52 232.49 61.31 232.51 62.11 232.53 62.9 232.54 63.7 232.55 64.49 232.56 65.29 232.57 66.09 232.58 66.88 232.58 67.68 232.59 68.47 232.59 69.27 232.6 70.06 232.6 70.86 232.6 71.65 232.61 72.45 232.61 73.24 232.61 74.04 232.61 74.83 232.61 75.63 232.61 76.43 232.61 77.22 232.61 78.02 232.62 78.81 232.62 79.61 232.62 80.4 232.62 81.2 232.62 81.99 232.62 82.79 232.62 83.58 232.62 84.38 232.62" stroke="#6584e2" stroke-width="1.8" fill="none"/>
<path d="M84.38 179.51 85.18 187.45 85.97 194.21 86.77 199.95 87.56 204.84 88.36 208.99 89.15 212.53 89.95 215.53 90.74 218.09 91.54 220.26 92.33 222.11 93.13 223.68 93.93 225.02 94.72 226.16 95.52 227.12 96.31 227.94 97.11 228.64 97.9 229.24 98.7 229.74 99.49 230.17 100.29 230.54 101.08 230.85 101.88 231.12 102.67 231.34 103.47 231.53 104.27 231.69 105.06 231.83 105.86 231.95 106.65 232.05 107.45 232.14 108.24 232.21 109.04 232.27 109.83 232.32 110.63 232.37 111.42 232.4 112.22 232.44 113.02 232.46 113.81 232.49 114.61 232.51 115.4 232.52 116.2 232.54 116.99 232.55 117.79 232.56 118.58 232.57 119.38 232.58 120.17 232.58 120.97 232.59 121.76 232.59 122.56 232.6 123.36 232.6 124.15 232.6 124.95 232.61 125.74 232.61 126.54 232.61 127.33 232.61 128.13 232.61 128.92 232.61 129.72 232.61 130.51 232.61 131.31 232.62" stroke="#6584e2" stroke-width="1.8" fill="none"/>
<path d="M131.31 190.09 132.11 196.45 132.9 201.86 133.7 206.46 134.49 210.38 135.29 213.7 136.08 216.53 136.88 218.94 137.67 220.98 138.47 222.72 139.26 224.2 140.06 225.46 140.86 226.53 141.65 227.44 142.45 228.22 143.24 228.88 144.04 229.44 144.83 229.91 145.63 230.32 146.42 230.66 147.22 230.95 148.01 231.2 148.81 231.41 149.6 231.59 150.4 231.75 151.2 231.88 151.99 231.99 152.79 232.08 153.58 232.16 154.38 232.23 155.17 232.29 155.97 232.34 156.76 232.38 157.56 232.42 158.35 232.45 159.15 232.47 159.95 232.49 160.74 232.51 161.54 232.53 162.33 232.54 163.13 232.55 163.92 232.56 164.72 232.57 165.51 232.58 166.31 232.58 167.1 232.59 167.9 232.59 168.69 232.6 169.49 232.6 170.29 232.6 171.08 232.61 171.88 232.61 172.67 232.61 173.47 232.61 174.26 232.61 175.06 232.61 175.85 232.61 176.65 232.61 177.44 232.62 178.24 232.62" stroke="#6584e2" stroke-width="1.8" fill="none"/>
<path d="M178.24 224.87 179.04 226.03 179.83 227.01 180.63 227.85 181.42 228.57 182.22 229.17 183.01 229.69 183.81 230.13 184.6 230.5 185.4 230.82 186.19 231.09 186.99 231.32 187.79 231.51 188.58 231.68 189.38 231.82 190.17 231.94 190.97 232.04 191.76 232.13 192.56 232.2 193.35 232.26 194.15 232.32 194.94 232.36 195.74 232.4 196.53 232.43 197.33 232.46 198.13 232.48 198.92 232.5 199.72 232.52 200.51 232.54 201.31 232.55 202.1 232.56 202.9 232.57 203.69 232.58 204.49 232.58 205.28 232.59 206.08 232.59 206.88 232.6 207.67 232.6 208.47 232.6 209.26 232.61 210.06 232.61 210.85 232.61 211.65 232.61 212.44 232.61 213.24 232.61 214.03 232.61 214.83 232.61 215.62 232.62 216.42 232.62 217.22 232.62 218.01 232.62 218.81 232.62 219.6 232.62 220.4 232.62 221.19 232.62 221.99 232.62 222.78 232.62 223.58 232.62 224.37 232.62 225.17 232.62" stroke="#6584e2" stroke-width="1.8" fill="none"/>
<line x1="28.4" y1="257" x2="31.6" y2="257" stroke="#333" stroke-width="0.9"/>
<line x1="28.4" y1="238.1" x2="31.6" y2="238.1" stroke="#333" stroke-width="0.9"/>
<line x1="28.4" y1="219.2" x2="31.6" y2="219.2" stroke="#333" stroke-width="0.9"/>
<line x1="28.4" y1="200.3" x2="31.6" y2="200.3" stroke="#333" stroke-width="0.9"/>
<line x1="28.4" y1="181.4" x2="31.6" y2="181.4" stroke="#333" stroke-width="0.9"/>
<line x1="28.4" y1="162.5" x2="31.6" y2="162.5" stroke="#333" stroke-width="0.9"/>
<line x1="28.4" y1="143.6" x2="31.6" y2="143.6" stroke="#333" stroke-width="0.9"/>
<line x1="37.45" y1="259.5" x2="37.45" y2="262.3" stroke="#333" stroke-width="0.9"/>
<line x1="84.38" y1="259.5" x2="84.38" y2="262.3" stroke="#333" stroke-width="0.9"/>
<line x1="131.31" y1="259.5" x2="131.31" y2="262.3" stroke="#333" stroke-width="0.9"/>
<line x1="178.24" y1="259.5" x2="178.24" y2="262.3" stroke="#333" stroke-width="0.9"/>
<text x="26.6" y="261.1" font-size="10.8" fill="#222" text-anchor="end" textLength="5.6" lengthAdjust="spacingAndGlyphs" stroke="#222" stroke-width="0.1">0</text>
<text x="26.6" y="242.2" font-size="10.8" fill="#222" text-anchor="end" textLength="5.6" lengthAdjust="spacingAndGlyphs" stroke="#222" stroke-width="0.1">5</text>
<text x="26.6" y="223.3" font-size="10.8" fill="#222" text-anchor="end" textLength="11.2" lengthAdjust="spacingAndGlyphs" stroke="#222" stroke-width="0.1">10</text>
<text x="26.6" y="204.4" font-size="10.8" fill="#222" text-anchor="end" textLength="11.2" lengthAdjust="spacingAndGlyphs" stroke="#222" stroke-width="0.1">15</text>
<text x="26.6" y="185.5" font-size="10.8" fill="#222" text-anchor="end" textLength="11.2" lengthAdjust="spacingAndGlyphs" stroke="#222" stroke-width="0.1">20</text>
<text x="26.6" y="166.6" font-size="10.8" fill="#222" text-anchor="end" textLength="11.2" lengthAdjust="spacingAndGlyphs" stroke="#222" stroke-width="0.1">25</text>
<text x="26.6" y="147.7" font-size="10.8" fill="#222" text-anchor="end" textLength="11.2" lengthAdjust="spacingAndGlyphs" stroke="#222" stroke-width="0.1">30</text>
<text x="37.45" y="270.9" font-size="10.6" fill="#222" text-anchor="middle" textLength="14.8" lengthAdjust="spacingAndGlyphs" stroke="#222" stroke-width="0.1">0.0</text>
<text x="84.38" y="270.9" font-size="10.6" fill="#222" text-anchor="middle" textLength="21" lengthAdjust="spacingAndGlyphs" stroke="#222" stroke-width="0.1">0.65</text>
<text x="131.31" y="270.9" font-size="10.6" fill="#222" text-anchor="middle" textLength="14.8" lengthAdjust="spacingAndGlyphs" stroke="#222" stroke-width="0.1">1.3</text>
<text x="178.24" y="270.9" font-size="10.6" fill="#222" text-anchor="middle" textLength="21" lengthAdjust="spacingAndGlyphs" stroke="#222" stroke-width="0.1">1.95</text>
<text x="130.9" y="281.2" font-size="11.5" fill="#111" text-anchor="middle" textLength="32" lengthAdjust="spacingAndGlyphs">t (ms)</text>
<line x1="254.1" y1="257" x2="459.1" y2="257" stroke="#ebebeb" stroke-width="0.8"/>
<line x1="254.1" y1="238.1" x2="459.1" y2="238.1" stroke="#ebebeb" stroke-width="0.8"/>
<line x1="254.1" y1="219.2" x2="459.1" y2="219.2" stroke="#ebebeb" stroke-width="0.8"/>
<line x1="254.1" y1="200.3" x2="459.1" y2="200.3" stroke="#ebebeb" stroke-width="0.8"/>
<line x1="254.1" y1="181.4" x2="459.1" y2="181.4" stroke="#ebebeb" stroke-width="0.8"/>
<line x1="254.1" y1="162.5" x2="459.1" y2="162.5" stroke="#ebebeb" stroke-width="0.8"/>
<line x1="254.1" y1="143.6" x2="459.1" y2="143.6" stroke="#ebebeb" stroke-width="0.8"/>
<line x1="263.15" y1="143.8" x2="263.15" y2="262.3" stroke="#ebebeb" stroke-width="0.8"/>
<line x1="310.08" y1="143.8" x2="310.08" y2="262.3" stroke="#ebebeb" stroke-width="0.8"/>
<line x1="357.01" y1="143.8" x2="357.01" y2="262.3" stroke="#ebebeb" stroke-width="0.8"/>
<line x1="403.94" y1="143.8" x2="403.94" y2="262.3" stroke="#ebebeb" stroke-width="0.8"/>
<rect x="254.1" y="143.8" width="205" height="118.5" fill="none" stroke="#e0e0e0" stroke-width="0.8"/>
<path d="M263.15 151.16 264.23 151.16 264.23 177.62 265.32 177.62 265.32 173.84 266.4 173.84 266.4 173.84 267.48 173.84 267.48 181.4 268.56 181.4 268.56 177.62 269.65 177.62 269.65 170.06 270.73 170.06 270.73 196.52 271.81 196.52 271.81 196.52 272.9 196.52 272.9 196.52 273.98 196.52 273.98 200.3 275.06 200.3 275.06 204.08 276.15 204.08 276.15 200.3 277.23 200.3 277.23 196.52 278.31 196.52 278.31 188.96 279.39 188.96 279.39 207.86 280.48 207.86 280.48 207.86 281.56 207.86 281.56 200.3 282.64 200.3 282.64 211.64 283.73 211.64 283.73 200.3 284.81 200.3 284.81 215.42 285.89 215.42 285.89 204.08 286.98 204.08 286.98 211.64 288.06 211.64 288.06 207.86 289.14 207.86 289.14 188.96 290.22 188.96 290.22 219.2 291.31 219.2 291.31 215.42 292.39 215.42 292.39 207.86 293.47 207.86 293.47 215.42 294.56 215.42 294.56 219.2 295.64 219.2 295.64 204.08 296.72 204.08 296.72 207.86 297.81 207.86 297.81 207.86 298.89 207.86 298.89 215.42 299.97 215.42 299.97 204.08 301.05 204.08 301.05 211.64 302.14 211.64 302.14 204.08 303.22 204.08 303.22 215.42 304.3 215.42 304.3 215.42 305.39 215.42 305.39 211.64 306.47 211.64 306.47 215.42 307.55 215.42 307.55 207.86 308.64 207.86 308.64 207.86 309.72 207.86 309.72 215.42 310.08 215.42 310.08 245.66 309.72 245.66 309.72 245.66 308.64 245.66 308.64 249.44 307.55 249.44 307.55 249.44 306.47 249.44 306.47 245.66 305.39 245.66 305.39 249.44 304.3 249.44 304.3 257 303.22 257 303.22 245.66 302.14 245.66 302.14 245.66 301.05 245.66 301.05 249.44 299.97 249.44 299.97 245.66 298.89 245.66 298.89 249.44 297.81 249.44 297.81 245.66 296.72 245.66 296.72 249.44 295.64 249.44 295.64 249.44 294.56 249.44 294.56 253.22 293.47 253.22 293.47 245.66 292.39 245.66 292.39 249.44 291.31 249.44 291.31 253.22 290.22 253.22 290.22 253.22 289.14 253.22 289.14 253.22 288.06 253.22 288.06 249.44 286.98 249.44 286.98 241.88 285.89 241.88 285.89 245.66 284.81 245.66 284.81 245.66 283.73 245.66 283.73 245.66 282.64 245.66 282.64 245.66 281.56 245.66 281.56 245.66 280.48 245.66 280.48 249.44 279.39 249.44 279.39 241.88 278.31 241.88 278.31 245.66 277.23 245.66 277.23 238.1 276.15 238.1 276.15 245.66 275.06 245.66 275.06 241.88 273.98 241.88 273.98 238.1 272.9 238.1 272.9 238.1 271.81 238.1 271.81 234.32 270.73 234.32 270.73 238.1 269.65 238.1 269.65 245.66 268.56 245.66 268.56 238.1 267.48 238.1 267.48 230.54 266.4 230.54 266.4 234.32 265.32 234.32 265.32 207.86 264.23 207.86 264.23 211.64 263.15 211.64Z" stroke="none" stroke-width="0" fill="#b3c1f0"/>
<line x1="263.45" y1="257" x2="263.45" y2="211.64" stroke="#b3c1f0" stroke-width="0.8"/>
<path d="M310.08 192.74 311.16 192.74 311.16 200.3 312.25 200.3 312.25 204.08 313.33 204.08 313.33 196.52 314.41 196.52 314.41 211.64 315.5 211.64 315.5 207.86 316.58 207.86 316.58 211.64 317.66 211.64 317.66 200.3 318.74 200.3 318.74 219.2 319.83 219.2 319.83 211.64 320.91 211.64 320.91 211.64 321.99 211.64 321.99 207.86 323.08 207.86 323.08 207.86 324.16 207.86 324.16 204.08 325.24 204.08 325.24 200.3 326.32 200.3 326.32 207.86 327.41 207.86 327.41 211.64 328.49 211.64 328.49 215.42 329.57 215.42 329.57 207.86 330.66 207.86 330.66 215.42 331.74 215.42 331.74 222.98 332.82 222.98 332.82 211.64 333.91 211.64 333.91 219.2 334.99 219.2 334.99 200.3 336.07 200.3 336.07 207.86 337.15 207.86 337.15 207.86 338.24 207.86 338.24 200.3 339.32 200.3 339.32 211.64 340.4 211.64 340.4 219.2 341.49 219.2 341.49 215.42 342.57 215.42 342.57 215.42 343.65 215.42 343.65 219.2 344.74 219.2 344.74 207.86 345.82 207.86 345.82 207.86 346.9 207.86 346.9 222.98 347.99 222.98 347.99 207.86 349.07 207.86 349.07 211.64 350.15 211.64 350.15 207.86 351.23 207.86 351.23 211.64 352.32 211.64 352.32 200.3 353.4 200.3 353.4 200.3 354.48 200.3 354.48 204.08 355.57 204.08 355.57 192.74 356.65 192.74 356.65 207.86 357.01 207.86 357.01 245.66 356.65 245.66 356.65 249.44 355.57 249.44 355.57 249.44 354.48 249.44 354.48 249.44 353.4 249.44 353.4 249.44 352.32 249.44 352.32 245.66 351.23 245.66 351.23 249.44 350.15 249.44 350.15 253.22 349.07 253.22 349.07 249.44 347.99 249.44 347.99 253.22 346.9 253.22 346.9 241.88 345.82 241.88 345.82 253.22 344.74 253.22 344.74 249.44 343.65 249.44 343.65 249.44 342.57 249.44 342.57 249.44 341.49 249.44 341.49 245.66 340.4 245.66 340.4 257 339.32 257 339.32 257 338.24 257 338.24 253.22 337.15 253.22 337.15 245.66 336.07 245.66 336.07 249.44 334.99 249.44 334.99 245.66 333.91 245.66 333.91 249.44 332.82 249.44 332.82 245.66 331.74 245.66 331.74 245.66 330.66 245.66 330.66 249.44 329.57 249.44 329.57 249.44 328.49 249.44 328.49 241.88 327.41 241.88 327.41 245.66 326.32 245.66 326.32 249.44 325.24 249.44 325.24 245.66 324.16 245.66 324.16 249.44 323.08 249.44 323.08 245.66 321.99 245.66 321.99 249.44 320.91 249.44 320.91 249.44 319.83 249.44 319.83 245.66 318.74 245.66 318.74 241.88 317.66 241.88 317.66 253.22 316.58 253.22 316.58 245.66 315.5 245.66 315.5 245.66 314.41 245.66 314.41 249.44 313.33 249.44 313.33 253.22 312.25 253.22 312.25 245.66 311.16 245.66 311.16 238.1 310.08 238.1Z" stroke="none" stroke-width="0" fill="#b3c1f0"/>
<line x1="310.38" y1="257" x2="310.38" y2="238.1" stroke="#b3c1f0" stroke-width="0.8"/>
<path d="M357.01 211.64 358.09 211.64 358.09 177.62 359.18 177.62 359.18 196.52 360.26 196.52 360.26 204.08 361.34 204.08 361.34 204.08 362.42 204.08 362.42 200.3 363.51 200.3 363.51 196.52 364.59 196.52 364.59 211.64 365.67 211.64 365.67 207.86 366.76 207.86 366.76 185.18 367.84 185.18 367.84 219.2 368.92 219.2 368.92 204.08 370.01 204.08 370.01 215.42 371.09 215.42 371.09 215.42 372.17 215.42 372.17 204.08 373.25 204.08 373.25 211.64 374.34 211.64 374.34 219.2 375.42 219.2 375.42 211.64 376.5 211.64 376.5 204.08 377.59 204.08 377.59 204.08 378.67 204.08 378.67 211.64 379.75 211.64 379.75 207.86 380.84 207.86 380.84 207.86 381.92 207.86 381.92 215.42 383 215.42 383 207.86 384.08 207.86 384.08 211.64 385.17 211.64 385.17 215.42 386.25 215.42 386.25 215.42 387.33 215.42 387.33 211.64 388.42 211.64 388.42 211.64 389.5 211.64 389.5 204.08 390.58 204.08 390.58 211.64 391.67 211.64 391.67 204.08 392.75 204.08 392.75 211.64 393.83 211.64 393.83 204.08 394.91 204.08 394.91 204.08 396 204.08 396 207.86 397.08 207.86 397.08 196.52 398.16 196.52 398.16 215.42 399.25 215.42 399.25 207.86 400.33 207.86 400.33 211.64 401.41 211.64 401.41 200.3 402.5 200.3 402.5 200.3 403.58 200.3 403.58 222.98 403.94 222.98 403.94 245.66 403.58 245.66 403.58 253.22 402.5 253.22 402.5 253.22 401.41 253.22 401.41 249.44 400.33 249.44 400.33 245.66 399.25 245.66 399.25 249.44 398.16 249.44 398.16 238.1 397.08 238.1 397.08 245.66 396 245.66 396 241.88 394.91 241.88 394.91 245.66 393.83 245.66 393.83 245.66 392.75 245.66 392.75 249.44 391.67 249.44 391.67 249.44 390.58 249.44 390.58 245.66 389.5 245.66 389.5 245.66 388.42 245.66 388.42 253.22 387.33 253.22 387.33 245.66 386.25 245.66 386.25 245.66 385.17 245.66 385.17 245.66 384.08 245.66 384.08 253.22 383 253.22 383 257 381.92 257 381.92 249.44 380.84 249.44 380.84 241.88 379.75 241.88 379.75 245.66 378.67 245.66 378.67 245.66 377.59 245.66 377.59 245.66 376.5 245.66 376.5 249.44 375.42 249.44 375.42 245.66 374.34 245.66 374.34 241.88 373.25 241.88 373.25 253.22 372.17 253.22 372.17 245.66 371.09 245.66 371.09 249.44 370.01 249.44 370.01 245.66 368.92 245.66 368.92 249.44 367.84 249.44 367.84 241.88 366.76 241.88 366.76 245.66 365.67 245.66 365.67 245.66 364.59 245.66 364.59 253.22 363.51 253.22 363.51 249.44 362.42 249.44 362.42 245.66 361.34 245.66 361.34 241.88 360.26 241.88 360.26 245.66 359.18 245.66 359.18 234.32 358.09 234.32 358.09 241.88 357.01 241.88Z" stroke="none" stroke-width="0" fill="#b3c1f0"/>
<line x1="357.31" y1="257" x2="357.31" y2="241.88" stroke="#b3c1f0" stroke-width="0.8"/>
<path d="M403.94 154.94 405.02 154.94 405.02 162.5 406.11 162.5 406.11 185.18 407.19 185.18 407.19 192.74 408.27 192.74 408.27 192.74 409.36 192.74 409.36 204.08 410.44 204.08 410.44 188.96 411.52 188.96 411.52 196.52 412.6 196.52 412.6 207.86 413.69 207.86 413.69 204.08 414.77 204.08 414.77 207.86 415.85 207.86 415.85 196.52 416.94 196.52 416.94 204.08 418.02 204.08 418.02 207.86 419.1 207.86 419.1 200.3 420.19 200.3 420.19 222.98 421.27 222.98 421.27 207.86 422.35 207.86 422.35 215.42 423.43 215.42 423.43 207.86 424.52 207.86 424.52 207.86 425.6 207.86 425.6 215.42 426.68 215.42 426.68 215.42 427.77 215.42 427.77 207.86 428.85 207.86 428.85 207.86 429.93 207.86 429.93 215.42 431.01 215.42 431.01 200.3 432.1 200.3 432.1 196.52 433.18 196.52 433.18 219.2 434.26 219.2 434.26 207.86 435.35 207.86 435.35 196.52 436.43 196.52 436.43 207.86 437.51 207.86 437.51 207.86 438.6 207.86 438.6 211.64 439.68 211.64 439.68 196.52 440.76 196.52 440.76 211.64 441.85 211.64 441.85 207.86 442.93 207.86 442.93 207.86 444.01 207.86 444.01 211.64 445.09 211.64 445.09 215.42 446.18 215.42 446.18 219.2 447.26 219.2 447.26 211.64 448.34 211.64 448.34 215.42 449.43 215.42 449.43 211.64 450.51 211.64 450.51 204.08 450.87 204.08 450.87 249.44 450.51 249.44 450.51 253.22 449.43 253.22 449.43 241.88 448.34 241.88 448.34 241.88 447.26 241.88 447.26 245.66 446.18 245.66 446.18 241.88 445.09 241.88 445.09 249.44 444.01 249.44 444.01 253.22 442.93 253.22 442.93 249.44 441.85 249.44 441.85 245.66 440.76 245.66 440.76 249.44 439.68 249.44 439.68 245.66 438.6 245.66 438.6 245.66 437.51 245.66 437.51 249.44 436.43 249.44 436.43 253.22 435.35 253.22 435.35 249.44 434.26 249.44 434.26 249.44 433.18 249.44 433.18 245.66 432.1 245.66 432.1 241.88 431.01 241.88 431.01 245.66 429.93 245.66 429.93 245.66 428.85 245.66 428.85 249.44 427.77 249.44 427.77 241.88 426.68 241.88 426.68 249.44 425.6 249.44 425.6 245.66 424.52 245.66 424.52 245.66 423.43 245.66 423.43 253.22 422.35 253.22 422.35 253.22 421.27 253.22 421.27 253.22 420.19 253.22 420.19 249.44 419.1 249.44 419.1 245.66 418.02 245.66 418.02 249.44 416.94 249.44 416.94 249.44 415.85 249.44 415.85 245.66 414.77 245.66 414.77 241.88 413.69 241.88 413.69 241.88 412.6 241.88 412.6 241.88 411.52 241.88 411.52 234.32 410.44 234.32 410.44 238.1 409.36 238.1 409.36 238.1 408.27 238.1 408.27 234.32 407.19 234.32 407.19 226.76 406.11 226.76 406.11 222.98 405.02 222.98 405.02 222.98 403.94 222.98Z" stroke="none" stroke-width="0" fill="#b3c1f0"/>
<line x1="404.24" y1="257" x2="404.24" y2="222.98" stroke="#b3c1f0" stroke-width="0.8"/>
<path d="M263.15 182.91 263.95 190.35 264.74 196.67 265.54 202.05 266.33 206.62 267.13 210.51 267.92 213.82 268.72 216.63 269.51 219.02 270.31 221.05 271.1 222.78 271.9 224.25 272.7 225.51 273.49 226.57 274.29 227.47 275.08 228.24 275.88 228.9 276.67 229.45 277.47 229.93 278.26 230.33 279.06 230.67 279.85 230.96 280.65 231.21 281.44 231.42 282.24 231.6 283.04 231.75 283.83 231.88 284.63 231.99 285.42 232.09 286.22 232.17 287.01 232.23 287.81 232.29 288.6 232.34 289.4 232.38 290.19 232.42 290.99 232.45 291.79 232.47 292.58 232.5 293.38 232.51 294.17 232.53 294.97 232.54 295.76 232.55 296.56 232.56 297.35 232.57 298.15 232.58 298.94 232.59 299.74 232.59 300.53 232.59 301.33 232.6 302.13 232.6 302.92 232.6 303.72 232.61 304.51 232.61 305.31 232.61 306.1 232.61 306.9 232.61 307.69 232.61 308.49 232.61 309.28 232.61 310.08 232.62" stroke="#6584e2" stroke-width="1.8" fill="none"/>
<path d="M310.08 222.98 310.88 224.42 311.67 225.65 312.47 226.69 313.26 227.58 314.06 228.33 314.85 228.97 315.65 229.52 316.44 229.98 317.24 230.38 318.03 230.71 318.83 231 319.63 231.24 320.42 231.45 321.22 231.62 322.01 231.77 322.81 231.9 323.6 232.01 324.4 232.1 325.19 232.18 325.99 232.24 326.78 232.3 327.58 232.35 328.37 232.39 329.17 232.42 329.97 232.45 330.76 232.48 331.56 232.5 332.35 232.52 333.15 232.53 333.94 232.54 334.74 232.56 335.53 232.56 336.33 232.57 337.12 232.58 337.92 232.59 338.72 232.59 339.51 232.59 340.31 232.6 341.1 232.6 341.9 232.6 342.69 232.61 343.49 232.61 344.28 232.61 345.08 232.61 345.87 232.61 346.67 232.61 347.46 232.61 348.26 232.61 349.06 232.62 349.85 232.62 350.65 232.62 351.44 232.62 352.24 232.62 353.03 232.62 353.83 232.62 354.62 232.62 355.42 232.62 356.21 232.62 357.01 232.62" stroke="#6584e2" stroke-width="1.8" fill="none"/>
<path d="M357.01 220.71 357.81 222.49 358.6 224.01 359.4 225.3 360.19 226.39 360.99 227.32 361.78 228.11 362.58 228.79 363.37 229.36 364.17 229.85 364.96 230.26 365.76 230.62 366.56 230.92 367.35 231.17 368.15 231.39 368.94 231.57 369.74 231.73 370.53 231.86 371.33 231.97 372.12 232.07 372.92 232.15 373.71 232.22 374.51 232.28 375.3 232.33 376.1 232.38 376.9 232.41 377.69 232.44 378.49 232.47 379.28 232.49 380.08 232.51 380.87 232.53 381.67 232.54 382.46 232.55 383.26 232.56 384.05 232.57 384.85 232.58 385.65 232.58 386.44 232.59 387.24 232.59 388.03 232.6 388.83 232.6 389.62 232.6 390.42 232.61 391.21 232.61 392.01 232.61 392.8 232.61 393.6 232.61 394.39 232.61 395.19 232.61 395.99 232.61 396.78 232.62 397.58 232.62 398.37 232.62 399.17 232.62 399.96 232.62 400.76 232.62 401.55 232.62 402.35 232.62 403.14 232.62 403.94 232.62" stroke="#6584e2" stroke-width="1.8" fill="none"/>
<path d="M403.94 193.12 404.74 199.03 405.53 204.05 406.33 208.32 407.12 211.96 407.92 215.05 408.71 217.68 409.51 219.91 410.3 221.81 411.1 223.43 411.89 224.8 412.69 225.97 413.49 226.97 414.28 227.81 415.08 228.53 415.87 229.14 416.67 229.66 417.46 230.1 418.26 230.48 419.05 230.8 419.85 231.07 420.64 231.3 421.44 231.5 422.23 231.67 423.03 231.81 423.83 231.93 424.62 232.03 425.42 232.12 426.21 232.2 427.01 232.26 427.8 232.31 428.6 232.36 429.39 232.4 430.19 232.43 430.98 232.46 431.78 232.48 432.58 232.5 433.37 232.52 434.17 232.54 434.96 232.55 435.76 232.56 436.55 232.57 437.35 232.58 438.14 232.58 438.94 232.59 439.73 232.59 440.53 232.6 441.32 232.6 442.12 232.6 442.92 232.6 443.71 232.61 444.51 232.61 445.3 232.61 446.1 232.61 446.89 232.61 447.69 232.61 448.48 232.61 449.28 232.62 450.07 232.62 450.87 232.62" stroke="#6584e2" stroke-width="1.8" fill="none"/>
<line x1="254.1" y1="257" x2="257.3" y2="257" stroke="#333" stroke-width="0.9"/>
<line x1="254.1" y1="238.1" x2="257.3" y2="238.1" stroke="#333" stroke-width="0.9"/>
<line x1="254.1" y1="219.2" x2="257.3" y2="219.2" stroke="#333" stroke-width="0.9"/>
<line x1="254.1" y1="200.3" x2="257.3" y2="200.3" stroke="#333" stroke-width="0.9"/>
<line x1="254.1" y1="181.4" x2="257.3" y2="181.4" stroke="#333" stroke-width="0.9"/>
<line x1="254.1" y1="162.5" x2="257.3" y2="162.5" stroke="#333" stroke-width="0.9"/>
<line x1="254.1" y1="143.6" x2="257.3" y2="143.6" stroke="#333" stroke-width="0.9"/>
<line x1="263.15" y1="259.5" x2="263.15" y2="262.3" stroke="#333" stroke-width="0.9"/>
<line x1="310.08" y1="259.5" x2="310.08" y2="262.3" stroke="#333" stroke-width="0.9"/>
<line x1="357.01" y1="259.5" x2="357.01" y2="262.3" stroke="#333" stroke-width="0.9"/>
<line x1="403.94" y1="259.5" x2="403.94" y2="262.3" stroke="#333" stroke-width="0.9"/>
<text x="263.15" y="270.9" font-size="10.6" fill="#222" text-anchor="middle" textLength="14.8" lengthAdjust="spacingAndGlyphs" stroke="#222" stroke-width="0.1">0.0</text>
<text x="310.08" y="270.9" font-size="10.6" fill="#222" text-anchor="middle" textLength="21" lengthAdjust="spacingAndGlyphs" stroke="#222" stroke-width="0.1">0.65</text>
<text x="357.01" y="270.9" font-size="10.6" fill="#222" text-anchor="middle" textLength="14.8" lengthAdjust="spacingAndGlyphs" stroke="#222" stroke-width="0.1">1.3</text>
<text x="403.94" y="270.9" font-size="10.6" fill="#222" text-anchor="middle" textLength="21" lengthAdjust="spacingAndGlyphs" stroke="#222" stroke-width="0.1">1.95</text>
<text x="356.6" y="281.2" font-size="11.5" fill="#111" text-anchor="middle" textLength="32" lengthAdjust="spacingAndGlyphs">t (ms)</text>
<line x1="479.8" y1="257" x2="684.8" y2="257" stroke="#ebebeb" stroke-width="0.8"/>
<line x1="479.8" y1="238.1" x2="684.8" y2="238.1" stroke="#ebebeb" stroke-width="0.8"/>
<line x1="479.8" y1="219.2" x2="684.8" y2="219.2" stroke="#ebebeb" stroke-width="0.8"/>
<line x1="479.8" y1="200.3" x2="684.8" y2="200.3" stroke="#ebebeb" stroke-width="0.8"/>
<line x1="479.8" y1="181.4" x2="684.8" y2="181.4" stroke="#ebebeb" stroke-width="0.8"/>
<line x1="479.8" y1="162.5" x2="684.8" y2="162.5" stroke="#ebebeb" stroke-width="0.8"/>
<line x1="479.8" y1="143.6" x2="684.8" y2="143.6" stroke="#ebebeb" stroke-width="0.8"/>
<line x1="488.85" y1="143.8" x2="488.85" y2="262.3" stroke="#ebebeb" stroke-width="0.8"/>
<line x1="535.78" y1="143.8" x2="535.78" y2="262.3" stroke="#ebebeb" stroke-width="0.8"/>
<line x1="582.71" y1="143.8" x2="582.71" y2="262.3" stroke="#ebebeb" stroke-width="0.8"/>
<line x1="629.64" y1="143.8" x2="629.64" y2="262.3" stroke="#ebebeb" stroke-width="0.8"/>
<rect x="479.8" y="143.8" width="205" height="118.5" fill="none" stroke="#e0e0e0" stroke-width="0.8"/>
<path d="M488.85 173.84 489.93 173.84 489.93 162.5 491.02 162.5 491.02 166.28 492.1 166.28 492.1 185.18 493.18 185.18 493.18 192.74 494.26 192.74 494.26 196.52 495.35 196.52 495.35 192.74 496.43 192.74 496.43 196.52 497.51 196.52 497.51 192.74 498.6 192.74 498.6 196.52 499.68 196.52 499.68 196.52 500.76 196.52 500.76 188.96 501.85 188.96 501.85 204.08 502.93 204.08 502.93 215.42 504.01 215.42 504.01 207.86 505.09 207.86 505.09 207.86 506.18 207.86 506.18 211.64 507.26 211.64 507.26 192.74 508.34 192.74 508.34 211.64 509.43 211.64 509.43 215.42 510.51 215.42 510.51 200.3 511.59 200.3 511.59 207.86 512.68 207.86 512.68 207.86 513.76 207.86 513.76 204.08 514.84 204.08 514.84 204.08 515.92 204.08 515.92 207.86 517.01 207.86 517.01 226.76 518.09 226.76 518.09 207.86 519.17 207.86 519.17 215.42 520.26 215.42 520.26 215.42 521.34 215.42 521.34 211.64 522.42 211.64 522.42 204.08 523.51 204.08 523.51 204.08 524.59 204.08 524.59 219.2 525.67 219.2 525.67 200.3 526.75 200.3 526.75 215.42 527.84 215.42 527.84 219.2 528.92 219.2 528.92 207.86 530 207.86 530 207.86 531.09 207.86 531.09 215.42 532.17 215.42 532.17 207.86 533.25 207.86 533.25 215.42 534.34 215.42 534.34 215.42 535.42 215.42 535.42 211.64 535.78 211.64 535.78 245.66 535.42 245.66 535.42 249.44 534.34 249.44 534.34 245.66 533.25 245.66 533.25 241.88 532.17 241.88 532.17 249.44 531.09 249.44 531.09 249.44 530 249.44 530 245.66 528.92 245.66 528.92 249.44 527.84 249.44 527.84 249.44 526.75 249.44 526.75 245.66 525.67 245.66 525.67 241.88 524.59 241.88 524.59 249.44 523.51 249.44 523.51 249.44 522.42 249.44 522.42 241.88 521.34 241.88 521.34 241.88 520.26 241.88 520.26 245.66 519.17 245.66 519.17 253.22 518.09 253.22 518.09 245.66 517.01 245.66 517.01 245.66 515.92 245.66 515.92 249.44 514.84 249.44 514.84 245.66 513.76 245.66 513.76 241.88 512.68 241.88 512.68 253.22 511.59 253.22 511.59 249.44 510.51 249.44 510.51 249.44 509.43 249.44 509.43 241.88 508.34 241.88 508.34 241.88 507.26 241.88 507.26 241.88 506.18 241.88 506.18 245.66 505.09 245.66 505.09 241.88 504.01 241.88 504.01 241.88 502.93 241.88 502.93 241.88 501.85 241.88 501.85 245.66 500.76 245.66 500.76 238.1 499.68 238.1 499.68 241.88 498.6 241.88 498.6 245.66 497.51 245.66 497.51 245.66 496.43 245.66 496.43 245.66 495.35 245.66 495.35 241.88 494.26 241.88 494.26 234.32 493.18 234.32 493.18 226.76 492.1 226.76 492.1 238.1 491.02 238.1 491.02 219.2 489.93 219.2 489.93 222.98 488.85 222.98Z" stroke="none" stroke-width="0" fill="#b3c1f0"/>
<line x1="489.15" y1="257" x2="489.15" y2="222.98" stroke="#b3c1f0" stroke-width="0.8"/>
<path d="M535.78 211.64 536.86 211.64 536.86 200.3 537.95 200.3 537.95 196.52 539.03 196.52 539.03 192.74 540.11 192.74 540.11 219.2 541.19 219.2 541.19 188.96 542.28 188.96 542.28 215.42 543.36 215.42 543.36 200.3 544.44 200.3 544.44 200.3 545.53 200.3 545.53 204.08 546.61 204.08 546.61 207.86 547.69 207.86 547.69 215.42 548.78 215.42 548.78 207.86 549.86 207.86 549.86 215.42 550.94 215.42 550.94 211.64 552.02 211.64 552.02 192.74 553.11 192.74 553.11 207.86 554.19 207.86 554.19 200.3 555.27 200.3 555.27 215.42 556.36 215.42 556.36 204.08 557.44 204.08 557.44 200.3 558.52 200.3 558.52 192.74 559.61 192.74 559.61 211.64 560.69 211.64 560.69 219.2 561.77 219.2 561.77 211.64 562.86 211.64 562.86 222.98 563.94 222.98 563.94 219.2 565.02 219.2 565.02 211.64 566.1 211.64 566.1 215.42 567.19 215.42 567.19 211.64 568.27 211.64 568.27 211.64 569.35 211.64 569.35 185.18 570.44 185.18 570.44 204.08 571.52 204.08 571.52 211.64 572.6 211.64 572.6 204.08 573.68 204.08 573.68 215.42 574.77 215.42 574.77 211.64 575.85 211.64 575.85 204.08 576.93 204.08 576.93 219.2 578.02 219.2 578.02 211.64 579.1 211.64 579.1 219.2 580.18 219.2 580.18 211.64 581.27 211.64 581.27 200.3 582.35 200.3 582.35 215.42 582.71 215.42 582.71 249.44 582.35 249.44 582.35 245.66 581.27 245.66 581.27 249.44 580.18 249.44 580.18 253.22 579.1 253.22 579.1 257 578.02 257 578.02 241.88 576.93 241.88 576.93 249.44 575.85 249.44 575.85 249.44 574.77 249.44 574.77 245.66 573.68 245.66 573.68 245.66 572.6 245.66 572.6 245.66 571.52 245.66 571.52 245.66 570.44 245.66 570.44 249.44 569.35 249.44 569.35 245.66 568.27 245.66 568.27 253.22 567.19 253.22 567.19 249.44 566.1 249.44 566.1 249.44 565.02 249.44 565.02 253.22 563.94 253.22 563.94 253.22 562.86 253.22 562.86 241.88 561.77 241.88 561.77 257 560.69 257 560.69 249.44 559.61 249.44 559.61 245.66 558.52 245.66 558.52 253.22 557.44 253.22 557.44 249.44 556.36 249.44 556.36 253.22 555.27 253.22 555.27 249.44 554.19 249.44 554.19 253.22 553.11 253.22 553.11 241.88 552.02 241.88 552.02 245.66 550.94 245.66 550.94 245.66 549.86 245.66 549.86 249.44 548.78 249.44 548.78 245.66 547.69 245.66 547.69 245.66 546.61 245.66 546.61 241.88 545.53 241.88 545.53 241.88 544.44 241.88 544.44 241.88 543.36 241.88 543.36 245.66 542.28 245.66 542.28 245.66 541.19 245.66 541.19 249.44 540.11 249.44 540.11 253.22 539.03 253.22 539.03 245.66 537.95 245.66 537.95 241.88 536.86 241.88 536.86 241.88 535.78 241.88Z" stroke="none" stroke-width="0" fill="#b3c1f0"/>
<line x1="536.08" y1="257" x2="536.08" y2="241.88" stroke="#b3c1f0" stroke-width="0.8"/>
<path d="M582.71 173.84 583.79 173.84 583.79 192.74 584.88 192.74 584.88 207.86 585.96 207.86 585.96 196.52 587.04 196.52 587.04 185.18 588.12 185.18 588.12 215.42 589.21 215.42 589.21 200.3 590.29 200.3 590.29 204.08 591.37 204.08 591.37 207.86 592.46 207.86 592.46 200.3 593.54 200.3 593.54 215.42 594.62 215.42 594.62 207.86 595.71 207.86 595.71 200.3 596.79 200.3 596.79 211.64 597.87 211.64 597.87 211.64 598.95 211.64 598.95 207.86 600.04 207.86 600.04 211.64 601.12 211.64 601.12 200.3 602.2 200.3 602.2 215.42 603.29 215.42 603.29 204.08 604.37 204.08 604.37 219.2 605.45 219.2 605.45 207.86 606.54 207.86 606.54 211.64 607.62 211.64 607.62 226.76 608.7 226.76 608.7 211.64 609.78 211.64 609.78 196.52 610.87 196.52 610.87 215.42 611.95 215.42 611.95 200.3 613.03 200.3 613.03 219.2 614.12 219.2 614.12 215.42 615.2 215.42 615.2 204.08 616.28 204.08 616.28 211.64 617.37 211.64 617.37 188.96 618.45 188.96 618.45 207.86 619.53 207.86 619.53 215.42 620.62 215.42 620.62 211.64 621.7 211.64 621.7 204.08 622.78 204.08 622.78 204.08 623.86 204.08 623.86 211.64 624.95 211.64 624.95 211.64 626.03 211.64 626.03 211.64 627.11 211.64 627.11 215.42 628.2 215.42 628.2 200.3 629.28 200.3 629.28 211.64 629.64 211.64 629.64 241.88 629.28 241.88 629.28 241.88 628.2 241.88 628.2 249.44 627.11 249.44 627.11 245.66 626.03 245.66 626.03 249.44 624.95 249.44 624.95 253.22 623.86 253.22 623.86 245.66 622.78 245.66 622.78 253.22 621.7 253.22 621.7 249.44 620.62 249.44 620.62 245.66 619.53 245.66 619.53 245.66 618.45 245.66 618.45 245.66 617.37 245.66 617.37 249.44 616.28 249.44 616.28 249.44 615.2 249.44 615.2 245.66 614.12 245.66 614.12 241.88 613.03 241.88 613.03 249.44 611.95 249.44 611.95 245.66 610.87 245.66 610.87 245.66 609.78 245.66 609.78 245.66 608.7 245.66 608.7 245.66 607.62 245.66 607.62 249.44 606.54 249.44 606.54 241.88 605.45 241.88 605.45 245.66 604.37 245.66 604.37 249.44 603.29 249.44 603.29 245.66 602.2 245.66 602.2 241.88 601.12 241.88 601.12 249.44 600.04 249.44 600.04 249.44 598.95 249.44 598.95 253.22 597.87 253.22 597.87 249.44 596.79 249.44 596.79 253.22 595.71 253.22 595.71 249.44 594.62 249.44 594.62 249.44 593.54 249.44 593.54 245.66 592.46 245.66 592.46 245.66 591.37 245.66 591.37 245.66 590.29 245.66 590.29 241.88 589.21 241.88 589.21 253.22 588.12 253.22 588.12 241.88 587.04 241.88 587.04 238.1 585.96 238.1 585.96 238.1 584.88 238.1 584.88 241.88 583.79 241.88 583.79 234.32 582.71 234.32Z" stroke="none" stroke-width="0" fill="#b3c1f0"/>
<line x1="583.01" y1="257" x2="583.01" y2="234.32" stroke="#b3c1f0" stroke-width="0.8"/>
<path d="M629.64 170.06 630.72 170.06 630.72 170.06 631.81 170.06 631.81 170.06 632.89 170.06 632.89 185.18 633.97 185.18 633.97 170.06 635.06 170.06 635.06 207.86 636.14 207.86 636.14 192.74 637.22 192.74 637.22 207.86 638.3 207.86 638.3 204.08 639.39 204.08 639.39 204.08 640.47 204.08 640.47 211.64 641.55 211.64 641.55 215.42 642.64 215.42 642.64 211.64 643.72 211.64 643.72 207.86 644.8 207.86 644.8 204.08 645.88 204.08 645.88 204.08 646.97 204.08 646.97 215.42 648.05 215.42 648.05 215.42 649.13 215.42 649.13 207.86 650.22 207.86 650.22 207.86 651.3 207.86 651.3 222.98 652.38 222.98 652.38 204.08 653.47 204.08 653.47 211.64 654.55 211.64 654.55 215.42 655.63 215.42 655.63 207.86 656.71 207.86 656.71 204.08 657.8 204.08 657.8 207.86 658.88 207.86 658.88 188.96 659.96 188.96 659.96 211.64 661.05 211.64 661.05 204.08 662.13 204.08 662.13 204.08 663.21 204.08 663.21 211.64 664.3 211.64 664.3 204.08 665.38 204.08 665.38 192.74 666.46 192.74 666.46 211.64 667.54 211.64 667.54 215.42 668.63 215.42 668.63 204.08 669.71 204.08 669.71 207.86 670.79 207.86 670.79 219.2 671.88 219.2 671.88 207.86 672.96 207.86 672.96 207.86 674.04 207.86 674.04 207.86 675.13 207.86 675.13 222.98 676.21 222.98 676.21 211.64 676.57 211.64 676.57 241.88 676.21 241.88 676.21 249.44 675.13 249.44 675.13 245.66 674.04 245.66 674.04 245.66 672.96 245.66 672.96 245.66 671.88 245.66 671.88 241.88 670.79 241.88 670.79 249.44 669.71 249.44 669.71 245.66 668.63 245.66 668.63 249.44 667.54 249.44 667.54 249.44 666.46 249.44 666.46 245.66 665.38 245.66 665.38 245.66 664.3 245.66 664.3 253.22 663.21 253.22 663.21 253.22 662.13 253.22 662.13 241.88 661.05 241.88 661.05 249.44 659.96 249.44 659.96 245.66 658.88 245.66 658.88 249.44 657.8 249.44 657.8 257 656.71 257 656.71 249.44 655.63 249.44 655.63 249.44 654.55 249.44 654.55 253.22 653.47 253.22 653.47 245.66 652.38 245.66 652.38 245.66 651.3 245.66 651.3 253.22 650.22 253.22 650.22 245.66 649.13 245.66 649.13 249.44 648.05 249.44 648.05 245.66 646.97 245.66 646.97 253.22 645.88 253.22 645.88 245.66 644.8 245.66 644.8 245.66 643.72 245.66 643.72 241.88 642.64 241.88 642.64 253.22 641.55 253.22 641.55 238.1 640.47 238.1 640.47 245.66 639.39 245.66 639.39 245.66 638.3 245.66 638.3 238.1 637.22 238.1 637.22 234.32 636.14 234.32 636.14 241.88 635.06 241.88 635.06 226.76 633.97 226.76 633.97 234.32 632.89 234.32 632.89 226.76 631.81 226.76 631.81 215.42 630.72 215.42 630.72 207.86 629.64 207.86Z" stroke="none" stroke-width="0" fill="#b3c1f0"/>
<line x1="629.94" y1="257" x2="629.94" y2="207.86" stroke="#b3c1f0" stroke-width="0.8"/>
<path d="M488.85 189.34 489.65 195.81 490.44 201.32 491.24 206 492.03 209.98 492.83 213.37 493.62 216.25 494.42 218.69 495.21 220.78 496.01 222.55 496.8 224.05 497.6 225.34 498.4 226.43 499.19 227.35 499.99 228.14 500.78 228.81 501.58 229.38 502.37 229.86 503.17 230.28 503.96 230.63 504.76 230.92 505.55 231.18 506.35 231.39 507.14 231.58 507.94 231.73 508.74 231.87 509.53 231.98 510.33 232.07 511.12 232.16 511.92 232.22 512.71 232.28 513.51 232.33 514.3 232.38 515.1 232.41 515.89 232.44 516.69 232.47 517.49 232.49 518.28 232.51 519.08 232.53 519.87 232.54 520.67 232.55 521.46 232.56 522.26 232.57 523.05 232.58 523.85 232.58 524.64 232.59 525.44 232.59 526.23 232.6 527.03 232.6 527.83 232.6 528.62 232.61 529.42 232.61 530.21 232.61 531.01 232.61 531.8 232.61 532.6 232.61 533.39 232.61 534.19 232.61 534.98 232.62 535.78 232.62" stroke="#6584e2" stroke-width="1.8" fill="none"/>
<path d="M535.78 219.96 536.58 221.85 537.37 223.46 538.17 224.83 538.96 226 539.76 226.99 540.55 227.83 541.35 228.55 542.14 229.15 542.94 229.67 543.73 230.11 544.53 230.49 545.33 230.81 546.12 231.08 546.92 231.31 547.71 231.5 548.51 231.67 549.3 231.81 550.1 231.93 550.89 232.04 551.69 232.12 552.48 232.2 553.28 232.26 554.07 232.31 554.87 232.36 555.67 232.4 556.46 232.43 557.26 232.46 558.05 232.48 558.85 232.5 559.64 232.52 560.44 232.54 561.23 232.55 562.03 232.56 562.82 232.57 563.62 232.58 564.42 232.58 565.21 232.59 566.01 232.59 566.8 232.6 567.6 232.6 568.39 232.6 569.19 232.6 569.98 232.61 570.78 232.61 571.57 232.61 572.37 232.61 573.16 232.61 573.96 232.61 574.76 232.61 575.55 232.62 576.35 232.62 577.14 232.62 577.94 232.62 578.73 232.62 579.53 232.62 580.32 232.62 581.12 232.62 581.91 232.62 582.71 232.62" stroke="#6584e2" stroke-width="1.8" fill="none"/>
<path d="M582.71 216.55 583.51 218.96 584.3 221 585.1 222.74 585.89 224.22 586.69 225.47 587.48 226.54 588.28 227.45 589.07 228.22 589.87 228.88 590.66 229.44 591.46 229.92 592.26 230.32 593.05 230.66 593.85 230.96 594.64 231.2 595.44 231.42 596.23 231.6 597.03 231.75 597.82 231.88 598.62 231.99 599.41 232.08 600.21 232.16 601 232.23 601.8 232.29 602.6 232.34 603.39 232.38 604.19 232.42 604.98 232.45 605.78 232.47 606.57 232.49 607.37 232.51 608.16 232.53 608.96 232.54 609.75 232.55 610.55 232.56 611.35 232.57 612.14 232.58 612.94 232.58 613.73 232.59 614.53 232.59 615.32 232.6 616.12 232.6 616.91 232.6 617.71 232.61 618.5 232.61 619.3 232.61 620.09 232.61 620.89 232.61 621.69 232.61 622.48 232.61 623.28 232.61 624.07 232.62 624.87 232.62 625.66 232.62 626.46 232.62 627.25 232.62 628.05 232.62 628.84 232.62 629.64 232.62" stroke="#6584e2" stroke-width="1.8" fill="none"/>
<path d="M629.64 187.45 630.44 194.2 631.23 199.95 632.03 204.84 632.82 208.99 633.62 212.53 634.41 215.53 635.21 218.09 636 220.26 636.8 222.11 637.59 223.68 638.39 225.02 639.19 226.15 639.98 227.12 640.78 227.94 641.57 228.64 642.37 229.24 643.16 229.74 643.96 230.17 644.75 230.54 645.55 230.85 646.34 231.11 647.14 231.34 647.93 231.53 648.73 231.69 649.53 231.83 650.32 231.95 651.12 232.05 651.91 232.14 652.71 232.21 653.5 232.27 654.3 232.32 655.09 232.37 655.89 232.4 656.68 232.44 657.48 232.46 658.28 232.49 659.07 232.51 659.87 232.52 660.66 232.54 661.46 232.55 662.25 232.56 663.05 232.57 663.84 232.58 664.64 232.58 665.43 232.59 666.23 232.59 667.02 232.6 667.82 232.6 668.62 232.6 669.41 232.61 670.21 232.61 671 232.61 671.8 232.61 672.59 232.61 673.39 232.61 674.18 232.61 674.98 232.61 675.77 232.62 676.57 232.62" stroke="#6584e2" stroke-width="1.8" fill="none"/>
<line x1="479.8" y1="257" x2="483" y2="257" stroke="#333" stroke-width="0.9"/>
<line x1="479.8" y1="238.1" x2="483" y2="238.1" stroke="#333" stroke-width="0.9"/>
<line x1="479.8" y1="219.2" x2="483" y2="219.2" stroke="#333" stroke-width="0.9"/>
<line x1="479.8" y1="200.3" x2="483" y2="200.3" stroke="#333" stroke-width="0.9"/>
<line x1="479.8" y1="181.4" x2="483" y2="181.4" stroke="#333" stroke-width="0.9"/>
<line x1="479.8" y1="162.5" x2="483" y2="162.5" stroke="#333" stroke-width="0.9"/>
<line x1="479.8" y1="143.6" x2="483" y2="143.6" stroke="#333" stroke-width="0.9"/>
<line x1="488.85" y1="259.5" x2="488.85" y2="262.3" stroke="#333" stroke-width="0.9"/>
<line x1="535.78" y1="259.5" x2="535.78" y2="262.3" stroke="#333" stroke-width="0.9"/>
<line x1="582.71" y1="259.5" x2="582.71" y2="262.3" stroke="#333" stroke-width="0.9"/>
<line x1="629.64" y1="259.5" x2="629.64" y2="262.3" stroke="#333" stroke-width="0.9"/>
<text x="488.85" y="270.9" font-size="10.6" fill="#222" text-anchor="middle" textLength="14.8" lengthAdjust="spacingAndGlyphs" stroke="#222" stroke-width="0.1">0.0</text>
<text x="535.78" y="270.9" font-size="10.6" fill="#222" text-anchor="middle" textLength="21" lengthAdjust="spacingAndGlyphs" stroke="#222" stroke-width="0.1">0.65</text>
<text x="582.71" y="270.9" font-size="10.6" fill="#222" text-anchor="middle" textLength="14.8" lengthAdjust="spacingAndGlyphs" stroke="#222" stroke-width="0.1">1.3</text>
<text x="629.64" y="270.9" font-size="10.6" fill="#222" text-anchor="middle" textLength="21" lengthAdjust="spacingAndGlyphs" stroke="#222" stroke-width="0.1">1.95</text>
<text x="582.3" y="281.2" font-size="11.5" fill="#111" text-anchor="middle" textLength="32" lengthAdjust="spacingAndGlyphs">t (ms)</text>
<text transform="translate(11.4,202.4) rotate(-90)" font-size="11.5" fill="#111" text-anchor="middle" textLength="19" lengthAdjust="spacingAndGlyphs">Cts</text>
<path d="M81.3 147.5L77.7 154.15L81.3 160.8" stroke="#1a1a1a" stroke-width="0.75" fill="none"/>
<text x="82.8" y="158.4" font-size="11.8" fill="#1a1a1a" text-anchor="start" textLength="6.2" lengthAdjust="spacingAndGlyphs" stroke="#1a1a1a" stroke-width="0.28">Z</text>
<text x="89.7" y="160.8" font-size="8.4" fill="#1a1a1a" text-anchor="start" textLength="3.3" lengthAdjust="spacingAndGlyphs" stroke="#222" stroke-width="0.1">1</text>
<text x="94.4" y="158.4" font-size="11.8" fill="#1a1a1a" text-anchor="start" textLength="6.7" lengthAdjust="spacingAndGlyphs" stroke="#1a1a1a" stroke-width="0.28">Z</text>
<text x="102.5" y="160.8" font-size="8.4" fill="#1a1a1a" text-anchor="start" textLength="3.8" lengthAdjust="spacingAndGlyphs" stroke="#222" stroke-width="0.1">2</text>
<path d="M107.7 147.5L111.5 154.15L107.7 160.8" stroke="#1a1a1a" stroke-width="0.75" fill="none"/>
<line x1="114.8" y1="154.6" x2="122.4" y2="154.6" stroke="#1a1a1a" stroke-width="0.8"/>
<line x1="114.8" y1="157.4" x2="122.4" y2="157.4" stroke="#1a1a1a" stroke-width="0.8"/>
<line x1="128.1" y1="155.7" x2="135.2" y2="155.7" stroke="#1a1a1a" stroke-width="0.8"/>
<text x="138.3" y="158.4" font-size="11.6" fill="#1a1a1a" text-anchor="start" textLength="46.5" lengthAdjust="spacingAndGlyphs" stroke="#1a1a1a" stroke-width="0.28">0.645(39)</text>
<path d="M311.6 147.5L308 154.15L311.6 160.8" stroke="#1a1a1a" stroke-width="0.75" fill="none"/>
<text x="312.8" y="158.4" font-size="11.8" fill="#1a1a1a" text-anchor="start" textLength="8.1" lengthAdjust="spacingAndGlyphs" stroke="#1a1a1a" stroke-width="0.28">Y</text>
<text x="322.2" y="160.8" font-size="8.4" fill="#1a1a1a" text-anchor="start" textLength="2.8" lengthAdjust="spacingAndGlyphs" stroke="#222" stroke-width="0.1">1</text>
<text x="327.3" y="158.4" font-size="11.8" fill="#1a1a1a" text-anchor="start" textLength="8.4" lengthAdjust="spacingAndGlyphs" stroke="#1a1a1a" stroke-width="0.28">Y</text>
<text x="337" y="160.8" font-size="8.4" fill="#1a1a1a" text-anchor="start" textLength="3.1" lengthAdjust="spacingAndGlyphs" stroke="#222" stroke-width="0.1">2</text>
<path d="M341.4 147.5L345.8 154.15L341.4 160.8" stroke="#1a1a1a" stroke-width="0.75" fill="none"/>
<line x1="348.2" y1="154.6" x2="357" y2="154.6" stroke="#1a1a1a" stroke-width="0.8"/>
<line x1="348.2" y1="157.4" x2="357" y2="157.4" stroke="#1a1a1a" stroke-width="0.8"/>
<text x="358.6" y="158.4" font-size="11.6" fill="#1a1a1a" text-anchor="start" textLength="46.6" lengthAdjust="spacingAndGlyphs" stroke="#1a1a1a" stroke-width="0.28">0.608(38)</text>
<path d="M537.4 147.5L533.8 154.15L537.4 160.8" stroke="#1a1a1a" stroke-width="0.75" fill="none"/>
<text x="538.7" y="158.4" font-size="11.8" fill="#1a1a1a" text-anchor="start" textLength="8.5" lengthAdjust="spacingAndGlyphs" stroke="#1a1a1a" stroke-width="0.28">X</text>
<text x="548.3" y="160.8" font-size="8.4" fill="#1a1a1a" text-anchor="start" textLength="2.4" lengthAdjust="spacingAndGlyphs" stroke="#222" stroke-width="0.1">1</text>
<text x="554.7" y="158.4" font-size="11.8" fill="#1a1a1a" text-anchor="start" textLength="8" lengthAdjust="spacingAndGlyphs" stroke="#1a1a1a" stroke-width="0.28">X</text>
<text x="563.5" y="160.8" font-size="8.4" fill="#1a1a1a" text-anchor="start" textLength="2.9" lengthAdjust="spacingAndGlyphs" stroke="#222" stroke-width="0.1">2</text>
<path d="M567.6 147.5L571.6 154.15L567.6 160.8" stroke="#1a1a1a" stroke-width="0.75" fill="none"/>
<line x1="574" y1="154.6" x2="582.3" y2="154.6" stroke="#1a1a1a" stroke-width="0.8"/>
<line x1="574" y1="157.4" x2="582.3" y2="157.4" stroke="#1a1a1a" stroke-width="0.8"/>
<text x="584.1" y="158.4" font-size="11.6" fill="#1a1a1a" text-anchor="start" textLength="46.1" lengthAdjust="spacingAndGlyphs" stroke="#1a1a1a" stroke-width="0.28">0.502(38)</text>
<line x1="28.4" y1="403.7" x2="233.4" y2="403.7" stroke="#ebebeb" stroke-width="0.8"/>
<line x1="28.4" y1="381.2" x2="233.4" y2="381.2" stroke="#ebebeb" stroke-width="0.8"/>
<line x1="28.4" y1="358.7" x2="233.4" y2="358.7" stroke="#ebebeb" stroke-width="0.8"/>
<line x1="28.4" y1="336.2" x2="233.4" y2="336.2" stroke="#ebebeb" stroke-width="0.8"/>
<line x1="28.4" y1="313.7" x2="233.4" y2="313.7" stroke="#ebebeb" stroke-width="0.8"/>
<line x1="28.4" y1="291.2" x2="233.4" y2="291.2" stroke="#ebebeb" stroke-width="0.8"/>
<line x1="60.85" y1="285.7" x2="60.85" y2="404.4" stroke="#ebebeb" stroke-width="0.8"/>
<line x1="107.55" y1="285.7" x2="107.55" y2="404.4" stroke="#ebebeb" stroke-width="0.8"/>
<line x1="154.25" y1="285.7" x2="154.25" y2="404.4" stroke="#ebebeb" stroke-width="0.8"/>
<line x1="200.95" y1="285.7" x2="200.95" y2="404.4" stroke="#ebebeb" stroke-width="0.8"/>
<rect x="28.4" y="285.7" width="205" height="118.7" fill="none" stroke="#e0e0e0" stroke-width="0.8"/>
<rect x="84.2" y="291.2" width="46.7" height="112.5" fill="none" stroke="#111" stroke-width="1.2" stroke-dasharray="5 1.3 1 1.3"/>
<rect x="130.9" y="291.2" width="46.7" height="112.5" fill="none" stroke="#111" stroke-width="1.2" stroke-dasharray="5 1.3 1 1.3"/>
<rect x="37.5" y="377.82" width="46.7" height="25.88" fill="rgb(118,145,222)" stroke="none" stroke-width="0" fill-opacity="0.3"/>
<line x1="37.5" y1="377.82" x2="84.2" y2="377.82" stroke="#98abeb" stroke-width="1.2"/>
<line x1="37.5" y1="377.82" x2="37.5" y2="403.7" stroke="#98abeb" stroke-width="0.8"/>
<line x1="84.2" y1="377.82" x2="84.2" y2="403.7" stroke="#98abeb" stroke-width="0.8"/>
<line x1="60.85" y1="373.52" x2="60.85" y2="382.12" stroke="#6a84e0" stroke-width="1.25"/>
<line x1="59.35" y1="377.82" x2="62.35" y2="377.82" stroke="#6a84e0" stroke-width="1.2"/>
<line x1="60.85" y1="401.9" x2="60.85" y2="404" stroke="#333" stroke-width="0.9"/>
<rect x="84.2" y="299.97" width="46.7" height="103.73" fill="rgb(118,145,222)" stroke="none" stroke-width="0" fill-opacity="0.3"/>
<line x1="84.2" y1="299.97" x2="130.9" y2="299.97" stroke="#98abeb" stroke-width="1.2"/>
<line x1="84.2" y1="299.97" x2="84.2" y2="403.7" stroke="#98abeb" stroke-width="0.8"/>
<line x1="130.9" y1="299.97" x2="130.9" y2="403.7" stroke="#98abeb" stroke-width="0.8"/>
<line x1="107.55" y1="295.67" x2="107.55" y2="304.27" stroke="#6a84e0" stroke-width="1.25"/>
<line x1="106.05" y1="299.97" x2="109.05" y2="299.97" stroke="#6a84e0" stroke-width="1.2"/>
<line x1="107.55" y1="401.9" x2="107.55" y2="404" stroke="#333" stroke-width="0.9"/>
<rect x="130.9" y="321.57" width="46.7" height="82.12" fill="rgb(118,145,222)" stroke="none" stroke-width="0" fill-opacity="0.3"/>
<line x1="130.9" y1="321.57" x2="177.6" y2="321.57" stroke="#98abeb" stroke-width="1.2"/>
<line x1="130.9" y1="321.57" x2="130.9" y2="403.7" stroke="#98abeb" stroke-width="0.8"/>
<line x1="177.6" y1="321.57" x2="177.6" y2="403.7" stroke="#98abeb" stroke-width="0.8"/>
<line x1="154.25" y1="317.27" x2="154.25" y2="325.88" stroke="#6a84e0" stroke-width="1.25"/>
<line x1="152.75" y1="321.57" x2="155.75" y2="321.57" stroke="#6a84e0" stroke-width="1.2"/>
<line x1="154.25" y1="401.9" x2="154.25" y2="404" stroke="#333" stroke-width="0.9"/>
<rect x="177.6" y="389.07" width="46.7" height="14.62" fill="rgb(118,145,222)" stroke="none" stroke-width="0" fill-opacity="0.3"/>
<line x1="177.6" y1="389.07" x2="224.3" y2="389.07" stroke="#98abeb" stroke-width="1.2"/>
<line x1="177.6" y1="389.07" x2="177.6" y2="403.7" stroke="#98abeb" stroke-width="0.8"/>
<line x1="224.3" y1="389.07" x2="224.3" y2="403.7" stroke="#98abeb" stroke-width="0.8"/>
<line x1="200.95" y1="384.77" x2="200.95" y2="393.38" stroke="#6a84e0" stroke-width="1.25"/>
<line x1="199.45" y1="389.07" x2="202.45" y2="389.07" stroke="#6a84e0" stroke-width="1.2"/>
<line x1="200.95" y1="401.9" x2="200.95" y2="404" stroke="#333" stroke-width="0.9"/>
<line x1="28.4" y1="403.7" x2="31.6" y2="403.7" stroke="#333" stroke-width="0.9"/>
<line x1="28.4" y1="381.2" x2="31.6" y2="381.2" stroke="#333" stroke-width="0.9"/>
<line x1="28.4" y1="358.7" x2="31.6" y2="358.7" stroke="#333" stroke-width="0.9"/>
<line x1="28.4" y1="336.2" x2="31.6" y2="336.2" stroke="#333" stroke-width="0.9"/>
<line x1="28.4" y1="313.7" x2="31.6" y2="313.7" stroke="#333" stroke-width="0.9"/>
<line x1="28.4" y1="291.2" x2="31.6" y2="291.2" stroke="#333" stroke-width="0.9"/>
<text x="27" y="407.8" font-size="10.8" fill="#222" text-anchor="end" textLength="14.8" lengthAdjust="spacingAndGlyphs" stroke="#222" stroke-width="0.1">0.0</text>
<text x="27" y="385.3" font-size="10.8" fill="#222" text-anchor="end" textLength="14.8" lengthAdjust="spacingAndGlyphs" stroke="#222" stroke-width="0.1">0.1</text>
<text x="27" y="362.8" font-size="10.8" fill="#222" text-anchor="end" textLength="14.8" lengthAdjust="spacingAndGlyphs" stroke="#222" stroke-width="0.1">0.2</text>
<text x="27" y="340.3" font-size="10.8" fill="#222" text-anchor="end" textLength="14.8" lengthAdjust="spacingAndGlyphs" stroke="#222" stroke-width="0.1">0.3</text>
<text x="27" y="317.8" font-size="10.8" fill="#222" text-anchor="end" textLength="14.8" lengthAdjust="spacingAndGlyphs" stroke="#222" stroke-width="0.1">0.4</text>
<text x="27" y="295.3" font-size="10.8" fill="#222" text-anchor="end" textLength="14.8" lengthAdjust="spacingAndGlyphs" stroke="#222" stroke-width="0.1">0.5</text>
<line x1="44.55" y1="406.9" x2="44.55" y2="418.4" stroke="#333" stroke-width="0.8"/>
<path d="M49.63 407.9V414.25M51.87 407.9V414.25M47.95 412.41L50.75 416.1L53.55 412.41" stroke="#333" stroke-width="0.75" fill="none"/>
<text x="56.05" y="416.5" font-size="7" fill="#333" text-anchor="start" textLength="2.6" lengthAdjust="spacingAndGlyphs">1</text>
<path d="M63.63 407.9V414.25M65.87 407.9V414.25M61.95 412.41L64.75 416.1L67.55 412.41" stroke="#333" stroke-width="0.75" fill="none"/>
<text x="69.85" y="416.5" font-size="7" fill="#333" text-anchor="start" textLength="3.4" lengthAdjust="spacingAndGlyphs">2</text>
<path d="M74.55 405.3L78.15 412.3L74.55 419.3" stroke="#333" stroke-width="0.75" fill="none"/>
<line x1="91.25" y1="406.9" x2="91.25" y2="418.4" stroke="#333" stroke-width="0.8"/>
<path d="M96.33 407.9V414.25M98.57 407.9V414.25M94.65 412.41L97.45 416.1L100.25 412.41" stroke="#333" stroke-width="0.75" fill="none"/>
<text x="102.75" y="416.5" font-size="7" fill="#333" text-anchor="start" textLength="2.6" lengthAdjust="spacingAndGlyphs">1</text>
<path d="M110.33 416.1V409.74M112.57 416.1V409.74M108.65 411.59L111.45 407.9L114.25 411.59" stroke="#333" stroke-width="0.75" fill="none"/>
<text x="116.55" y="416.5" font-size="7" fill="#333" text-anchor="start" textLength="3.4" lengthAdjust="spacingAndGlyphs">2</text>
<path d="M121.25 405.3L124.85 412.3L121.25 419.3" stroke="#333" stroke-width="0.75" fill="none"/>
<line x1="137.95" y1="406.9" x2="137.95" y2="418.4" stroke="#333" stroke-width="0.8"/>
<path d="M143.03 416.1V409.74M145.27 416.1V409.74M141.35 411.59L144.15 407.9L146.95 411.59" stroke="#333" stroke-width="0.75" fill="none"/>
<text x="149.45" y="416.5" font-size="7" fill="#333" text-anchor="start" textLength="2.6" lengthAdjust="spacingAndGlyphs">1</text>
<path d="M157.03 407.9V414.25M159.27 407.9V414.25M155.35 412.41L158.15 416.1L160.95 412.41" stroke="#333" stroke-width="0.75" fill="none"/>
<text x="163.25" y="416.5" font-size="7" fill="#333" text-anchor="start" textLength="3.4" lengthAdjust="spacingAndGlyphs">2</text>
<path d="M167.95 405.3L171.55 412.3L167.95 419.3" stroke="#333" stroke-width="0.75" fill="none"/>
<line x1="184.65" y1="406.9" x2="184.65" y2="418.4" stroke="#333" stroke-width="0.8"/>
<path d="M189.73 416.1V409.74M191.97 416.1V409.74M188.05 411.59L190.85 407.9L193.65 411.59" stroke="#333" stroke-width="0.75" fill="none"/>
<text x="196.15" y="416.5" font-size="7" fill="#333" text-anchor="start" textLength="2.6" lengthAdjust="spacingAndGlyphs">1</text>
<path d="M203.73 416.1V409.74M205.97 416.1V409.74M202.05 411.59L204.85 407.9L207.65 411.59" stroke="#333" stroke-width="0.75" fill="none"/>
<text x="209.95" y="416.5" font-size="7" fill="#333" text-anchor="start" textLength="3.4" lengthAdjust="spacingAndGlyphs">2</text>
<path d="M214.65 405.3L218.25 412.3L214.65 419.3" stroke="#333" stroke-width="0.75" fill="none"/>
<line x1="254.15" y1="403.7" x2="459.15" y2="403.7" stroke="#ebebeb" stroke-width="0.8"/>
<line x1="254.15" y1="381.2" x2="459.15" y2="381.2" stroke="#ebebeb" stroke-width="0.8"/>
<line x1="254.15" y1="358.7" x2="459.15" y2="358.7" stroke="#ebebeb" stroke-width="0.8"/>
<line x1="254.15" y1="336.2" x2="459.15" y2="336.2" stroke="#ebebeb" stroke-width="0.8"/>
<line x1="254.15" y1="313.7" x2="459.15" y2="313.7" stroke="#ebebeb" stroke-width="0.8"/>
<line x1="254.15" y1="291.2" x2="459.15" y2="291.2" stroke="#ebebeb" stroke-width="0.8"/>
<line x1="286.6" y1="285.7" x2="286.6" y2="404.4" stroke="#ebebeb" stroke-width="0.8"/>
<line x1="333.3" y1="285.7" x2="333.3" y2="404.4" stroke="#ebebeb" stroke-width="0.8"/>
<line x1="380" y1="285.7" x2="380" y2="404.4" stroke="#ebebeb" stroke-width="0.8"/>
<line x1="426.7" y1="285.7" x2="426.7" y2="404.4" stroke="#ebebeb" stroke-width="0.8"/>
<rect x="254.15" y="285.7" width="205" height="118.7" fill="none" stroke="#e0e0e0" stroke-width="0.8"/>
<rect x="263.25" y="291.2" width="46.7" height="112.5" fill="none" stroke="#111" stroke-width="1.2" stroke-dasharray="5 1.3 1 1.3"/>
<rect x="403.35" y="291.2" width="46.7" height="112.5" fill="none" stroke="#111" stroke-width="1.2" stroke-dasharray="5 1.3 1 1.3"/>
<rect x="263.25" y="302.67" width="46.7" height="101.03" fill="rgb(118,145,222)" stroke="none" stroke-width="0" fill-opacity="0.3"/>
<line x1="263.25" y1="302.67" x2="309.95" y2="302.67" stroke="#98abeb" stroke-width="1.2"/>
<line x1="263.25" y1="302.67" x2="263.25" y2="403.7" stroke="#98abeb" stroke-width="0.8"/>
<line x1="309.95" y1="302.67" x2="309.95" y2="403.7" stroke="#98abeb" stroke-width="0.8"/>
<line x1="286.6" y1="298.37" x2="286.6" y2="306.97" stroke="#6a84e0" stroke-width="1.25"/>
<line x1="285.1" y1="302.67" x2="288.1" y2="302.67" stroke="#6a84e0" stroke-width="1.2"/>
<line x1="286.6" y1="401.9" x2="286.6" y2="404" stroke="#333" stroke-width="0.9"/>
<rect x="309.95" y="383.9" width="46.7" height="19.8" fill="rgb(118,145,222)" stroke="none" stroke-width="0" fill-opacity="0.3"/>
<line x1="309.95" y1="383.9" x2="356.65" y2="383.9" stroke="#98abeb" stroke-width="1.2"/>
<line x1="309.95" y1="383.9" x2="309.95" y2="403.7" stroke="#98abeb" stroke-width="0.8"/>
<line x1="356.65" y1="383.9" x2="356.65" y2="403.7" stroke="#98abeb" stroke-width="0.8"/>
<line x1="333.3" y1="379.6" x2="333.3" y2="388.2" stroke="#6a84e0" stroke-width="1.25"/>
<line x1="331.8" y1="383.9" x2="334.8" y2="383.9" stroke="#6a84e0" stroke-width="1.2"/>
<line x1="333.3" y1="401.9" x2="333.3" y2="404" stroke="#333" stroke-width="0.9"/>
<rect x="356.65" y="378.5" width="46.7" height="25.2" fill="rgb(118,145,222)" stroke="none" stroke-width="0" fill-opacity="0.3"/>
<line x1="356.65" y1="378.5" x2="403.35" y2="378.5" stroke="#98abeb" stroke-width="1.2"/>
<line x1="356.65" y1="378.5" x2="356.65" y2="403.7" stroke="#98abeb" stroke-width="0.8"/>
<line x1="403.35" y1="378.5" x2="403.35" y2="403.7" stroke="#98abeb" stroke-width="0.8"/>
<line x1="380" y1="374.2" x2="380" y2="382.8" stroke="#6a84e0" stroke-width="1.25"/>
<line x1="378.5" y1="378.5" x2="381.5" y2="378.5" stroke="#6a84e0" stroke-width="1.2"/>
<line x1="380" y1="401.9" x2="380" y2="404" stroke="#333" stroke-width="0.9"/>
<rect x="403.35" y="322.48" width="46.7" height="81.22" fill="rgb(118,145,222)" stroke="none" stroke-width="0" fill-opacity="0.3"/>
<line x1="403.35" y1="322.48" x2="450.05" y2="322.48" stroke="#98abeb" stroke-width="1.2"/>
<line x1="403.35" y1="322.48" x2="403.35" y2="403.7" stroke="#98abeb" stroke-width="0.8"/>
<line x1="450.05" y1="322.48" x2="450.05" y2="403.7" stroke="#98abeb" stroke-width="0.8"/>
<line x1="426.7" y1="318.18" x2="426.7" y2="326.78" stroke="#6a84e0" stroke-width="1.25"/>
<line x1="425.2" y1="322.48" x2="428.2" y2="322.48" stroke="#6a84e0" stroke-width="1.2"/>
<line x1="426.7" y1="401.9" x2="426.7" y2="404" stroke="#333" stroke-width="0.9"/>
<line x1="254.15" y1="403.7" x2="257.35" y2="403.7" stroke="#333" stroke-width="0.9"/>
<line x1="254.15" y1="381.2" x2="257.35" y2="381.2" stroke="#333" stroke-width="0.9"/>
<line x1="254.15" y1="358.7" x2="257.35" y2="358.7" stroke="#333" stroke-width="0.9"/>
<line x1="254.15" y1="336.2" x2="257.35" y2="336.2" stroke="#333" stroke-width="0.9"/>
<line x1="254.15" y1="313.7" x2="257.35" y2="313.7" stroke="#333" stroke-width="0.9"/>
<line x1="254.15" y1="291.2" x2="257.35" y2="291.2" stroke="#333" stroke-width="0.9"/>
<line x1="270.3" y1="406.9" x2="270.3" y2="418.4" stroke="#333" stroke-width="0.8"/>
<path d="M275.38 407.9V414.25M277.62 407.9V414.25M273.7 412.41L276.5 416.1L279.3 412.41" stroke="#333" stroke-width="0.75" fill="none"/>
<text x="281.8" y="416.5" font-size="7" fill="#333" text-anchor="start" textLength="2.6" lengthAdjust="spacingAndGlyphs">1</text>
<path d="M289.38 407.9V414.25M291.62 407.9V414.25M287.7 412.41L290.5 416.1L293.3 412.41" stroke="#333" stroke-width="0.75" fill="none"/>
<text x="295.6" y="416.5" font-size="7" fill="#333" text-anchor="start" textLength="3.4" lengthAdjust="spacingAndGlyphs">2</text>
<path d="M300.3 405.3L303.9 412.3L300.3 419.3" stroke="#333" stroke-width="0.75" fill="none"/>
<line x1="317" y1="406.9" x2="317" y2="418.4" stroke="#333" stroke-width="0.8"/>
<path d="M322.08 407.9V414.25M324.32 407.9V414.25M320.4 412.41L323.2 416.1L326 412.41" stroke="#333" stroke-width="0.75" fill="none"/>
<text x="328.5" y="416.5" font-size="7" fill="#333" text-anchor="start" textLength="2.6" lengthAdjust="spacingAndGlyphs">1</text>
<path d="M336.08 416.1V409.74M338.32 416.1V409.74M334.4 411.59L337.2 407.9L340 411.59" stroke="#333" stroke-width="0.75" fill="none"/>
<text x="342.3" y="416.5" font-size="7" fill="#333" text-anchor="start" textLength="3.4" lengthAdjust="spacingAndGlyphs">2</text>
<path d="M347 405.3L350.6 412.3L347 419.3" stroke="#333" stroke-width="0.75" fill="none"/>
<line x1="363.7" y1="406.9" x2="363.7" y2="418.4" stroke="#333" stroke-width="0.8"/>
<path d="M368.78 416.1V409.74M371.02 416.1V409.74M367.1 411.59L369.9 407.9L372.7 411.59" stroke="#333" stroke-width="0.75" fill="none"/>
<text x="375.2" y="416.5" font-size="7" fill="#333" text-anchor="start" textLength="2.6" lengthAdjust="spacingAndGlyphs">1</text>
<path d="M382.78 407.9V414.25M385.02 407.9V414.25M381.1 412.41L383.9 416.1L386.7 412.41" stroke="#333" stroke-width="0.75" fill="none"/>
<text x="389" y="416.5" font-size="7" fill="#333" text-anchor="start" textLength="3.4" lengthAdjust="spacingAndGlyphs">2</text>
<path d="M393.7 405.3L397.3 412.3L393.7 419.3" stroke="#333" stroke-width="0.75" fill="none"/>
<line x1="410.4" y1="406.9" x2="410.4" y2="418.4" stroke="#333" stroke-width="0.8"/>
<path d="M415.48 416.1V409.74M417.72 416.1V409.74M413.8 411.59L416.6 407.9L419.4 411.59" stroke="#333" stroke-width="0.75" fill="none"/>
<text x="421.9" y="416.5" font-size="7" fill="#333" text-anchor="start" textLength="2.6" lengthAdjust="spacingAndGlyphs">1</text>
<path d="M429.48 416.1V409.74M431.72 416.1V409.74M427.8 411.59L430.6 407.9L433.4 411.59" stroke="#333" stroke-width="0.75" fill="none"/>
<text x="435.7" y="416.5" font-size="7" fill="#333" text-anchor="start" textLength="3.4" lengthAdjust="spacingAndGlyphs">2</text>
<path d="M440.4 405.3L444 412.3L440.4 419.3" stroke="#333" stroke-width="0.75" fill="none"/>
<line x1="479.9" y1="403.7" x2="684.9" y2="403.7" stroke="#ebebeb" stroke-width="0.8"/>
<line x1="479.9" y1="381.2" x2="684.9" y2="381.2" stroke="#ebebeb" stroke-width="0.8"/>
<line x1="479.9" y1="358.7" x2="684.9" y2="358.7" stroke="#ebebeb" stroke-width="0.8"/>
<line x1="479.9" y1="336.2" x2="684.9" y2="336.2" stroke="#ebebeb" stroke-width="0.8"/>
<line x1="479.9" y1="313.7" x2="684.9" y2="313.7" stroke="#ebebeb" stroke-width="0.8"/>
<line x1="479.9" y1="291.2" x2="684.9" y2="291.2" stroke="#ebebeb" stroke-width="0.8"/>
<line x1="512.35" y1="285.7" x2="512.35" y2="404.4" stroke="#ebebeb" stroke-width="0.8"/>
<line x1="559.05" y1="285.7" x2="559.05" y2="404.4" stroke="#ebebeb" stroke-width="0.8"/>
<line x1="605.75" y1="285.7" x2="605.75" y2="404.4" stroke="#ebebeb" stroke-width="0.8"/>
<line x1="652.45" y1="285.7" x2="652.45" y2="404.4" stroke="#ebebeb" stroke-width="0.8"/>
<rect x="479.9" y="285.7" width="205" height="118.7" fill="none" stroke="#e0e0e0" stroke-width="0.8"/>
<rect x="489" y="291.2" width="46.7" height="112.5" fill="none" stroke="#111" stroke-width="1.2" stroke-dasharray="5 1.3 1 1.3"/>
<rect x="629.1" y="291.2" width="46.7" height="112.5" fill="none" stroke="#111" stroke-width="1.2" stroke-dasharray="5 1.3 1 1.3"/>
<rect x="489" y="320.23" width="46.7" height="83.47" fill="rgb(118,145,222)" stroke="none" stroke-width="0" fill-opacity="0.3"/>
<line x1="489" y1="320.23" x2="535.7" y2="320.23" stroke="#98abeb" stroke-width="1.2"/>
<line x1="489" y1="320.23" x2="489" y2="403.7" stroke="#98abeb" stroke-width="0.8"/>
<line x1="535.7" y1="320.23" x2="535.7" y2="403.7" stroke="#98abeb" stroke-width="0.8"/>
<line x1="512.35" y1="315.93" x2="512.35" y2="324.53" stroke="#6a84e0" stroke-width="1.25"/>
<line x1="510.85" y1="320.23" x2="513.85" y2="320.23" stroke="#6a84e0" stroke-width="1.2"/>
<line x1="512.35" y1="401.9" x2="512.35" y2="404" stroke="#333" stroke-width="0.9"/>
<rect x="535.7" y="378.5" width="46.7" height="25.2" fill="rgb(118,145,222)" stroke="none" stroke-width="0" fill-opacity="0.3"/>
<line x1="535.7" y1="378.5" x2="582.4" y2="378.5" stroke="#98abeb" stroke-width="1.2"/>
<line x1="535.7" y1="378.5" x2="535.7" y2="403.7" stroke="#98abeb" stroke-width="0.8"/>
<line x1="582.4" y1="378.5" x2="582.4" y2="403.7" stroke="#98abeb" stroke-width="0.8"/>
<line x1="559.05" y1="374.2" x2="559.05" y2="382.8" stroke="#6a84e0" stroke-width="1.25"/>
<line x1="557.55" y1="378.5" x2="560.55" y2="378.5" stroke="#6a84e0" stroke-width="1.2"/>
<line x1="559.05" y1="401.9" x2="559.05" y2="404" stroke="#333" stroke-width="0.9"/>
<rect x="582.4" y="372.88" width="46.7" height="30.82" fill="rgb(118,145,222)" stroke="none" stroke-width="0" fill-opacity="0.3"/>
<line x1="582.4" y1="372.88" x2="629.1" y2="372.88" stroke="#98abeb" stroke-width="1.2"/>
<line x1="582.4" y1="372.88" x2="582.4" y2="403.7" stroke="#98abeb" stroke-width="0.8"/>
<line x1="629.1" y1="372.88" x2="629.1" y2="403.7" stroke="#98abeb" stroke-width="0.8"/>
<line x1="605.75" y1="368.57" x2="605.75" y2="377.18" stroke="#6a84e0" stroke-width="1.25"/>
<line x1="604.25" y1="372.88" x2="607.25" y2="372.88" stroke="#6a84e0" stroke-width="1.2"/>
<line x1="605.75" y1="401.9" x2="605.75" y2="404" stroke="#333" stroke-width="0.9"/>
<rect x="629.1" y="317.75" width="46.7" height="85.95" fill="rgb(118,145,222)" stroke="none" stroke-width="0" fill-opacity="0.3"/>
<line x1="629.1" y1="317.75" x2="675.8" y2="317.75" stroke="#98abeb" stroke-width="1.2"/>
<line x1="629.1" y1="317.75" x2="629.1" y2="403.7" stroke="#98abeb" stroke-width="0.8"/>
<line x1="675.8" y1="317.75" x2="675.8" y2="403.7" stroke="#98abeb" stroke-width="0.8"/>
<line x1="652.45" y1="313.45" x2="652.45" y2="322.05" stroke="#6a84e0" stroke-width="1.25"/>
<line x1="650.95" y1="317.75" x2="653.95" y2="317.75" stroke="#6a84e0" stroke-width="1.2"/>
<line x1="652.45" y1="401.9" x2="652.45" y2="404" stroke="#333" stroke-width="0.9"/>
<line x1="479.9" y1="403.7" x2="483.1" y2="403.7" stroke="#333" stroke-width="0.9"/>
<line x1="479.9" y1="381.2" x2="483.1" y2="381.2" stroke="#333" stroke-width="0.9"/>
<line x1="479.9" y1="358.7" x2="483.1" y2="358.7" stroke="#333" stroke-width="0.9"/>
<line x1="479.9" y1="336.2" x2="483.1" y2="336.2" stroke="#333" stroke-width="0.9"/>
<line x1="479.9" y1="313.7" x2="483.1" y2="313.7" stroke="#333" stroke-width="0.9"/>
<line x1="479.9" y1="291.2" x2="483.1" y2="291.2" stroke="#333" stroke-width="0.9"/>
<line x1="496.05" y1="406.9" x2="496.05" y2="418.4" stroke="#333" stroke-width="0.8"/>
<path d="M501.13 407.9V414.25M503.37 407.9V414.25M499.45 412.41L502.25 416.1L505.05 412.41" stroke="#333" stroke-width="0.75" fill="none"/>
<text x="507.55" y="416.5" font-size="7" fill="#333" text-anchor="start" textLength="2.6" lengthAdjust="spacingAndGlyphs">1</text>
<path d="M515.13 407.9V414.25M517.37 407.9V414.25M513.45 412.41L516.25 416.1L519.05 412.41" stroke="#333" stroke-width="0.75" fill="none"/>
<text x="521.35" y="416.5" font-size="7" fill="#333" text-anchor="start" textLength="3.4" lengthAdjust="spacingAndGlyphs">2</text>
<path d="M526.05 405.3L529.65 412.3L526.05 419.3" stroke="#333" stroke-width="0.75" fill="none"/>
<line x1="542.75" y1="406.9" x2="542.75" y2="418.4" stroke="#333" stroke-width="0.8"/>
<path d="M547.83 407.9V414.25M550.07 407.9V414.25M546.15 412.41L548.95 416.1L551.75 412.41" stroke="#333" stroke-width="0.75" fill="none"/>
<text x="554.25" y="416.5" font-size="7" fill="#333" text-anchor="start" textLength="2.6" lengthAdjust="spacingAndGlyphs">1</text>
<path d="M561.83 416.1V409.74M564.07 416.1V409.74M560.15 411.59L562.95 407.9L565.75 411.59" stroke="#333" stroke-width="0.75" fill="none"/>
<text x="568.05" y="416.5" font-size="7" fill="#333" text-anchor="start" textLength="3.4" lengthAdjust="spacingAndGlyphs">2</text>
<path d="M572.75 405.3L576.35 412.3L572.75 419.3" stroke="#333" stroke-width="0.75" fill="none"/>
<line x1="589.45" y1="406.9" x2="589.45" y2="418.4" stroke="#333" stroke-width="0.8"/>
<path d="M594.53 416.1V409.74M596.77 416.1V409.74M592.85 411.59L595.65 407.9L598.45 411.59" stroke="#333" stroke-width="0.75" fill="none"/>
<text x="600.95" y="416.5" font-size="7" fill="#333" text-anchor="start" textLength="2.6" lengthAdjust="spacingAndGlyphs">1</text>
<path d="M608.53 407.9V414.25M610.77 407.9V414.25M606.85 412.41L609.65 416.1L612.45 412.41" stroke="#333" stroke-width="0.75" fill="none"/>
<text x="614.75" y="416.5" font-size="7" fill="#333" text-anchor="start" textLength="3.4" lengthAdjust="spacingAndGlyphs">2</text>
<path d="M619.45 405.3L623.05 412.3L619.45 419.3" stroke="#333" stroke-width="0.75" fill="none"/>
<line x1="636.15" y1="406.9" x2="636.15" y2="418.4" stroke="#333" stroke-width="0.8"/>
<path d="M641.23 416.1V409.74M643.47 416.1V409.74M639.55 411.59L642.35 407.9L645.15 411.59" stroke="#333" stroke-width="0.75" fill="none"/>
<text x="647.65" y="416.5" font-size="7" fill="#333" text-anchor="start" textLength="2.6" lengthAdjust="spacingAndGlyphs">1</text>
<path d="M655.23 416.1V409.74M657.47 416.1V409.74M653.55 411.59L656.35 407.9L659.15 411.59" stroke="#333" stroke-width="0.75" fill="none"/>
<text x="661.45" y="416.5" font-size="7" fill="#333" text-anchor="start" textLength="3.4" lengthAdjust="spacingAndGlyphs">2</text>
<path d="M666.15 405.3L669.75 412.3L666.15 419.3" stroke="#333" stroke-width="0.75" fill="none"/>
<text transform="translate(8.6,345.6) rotate(-90)" font-size="11.5" fill="#111" text-anchor="middle" textLength="52" lengthAdjust="spacingAndGlyphs">Rel. Amp</text>
</svg></body></html>
